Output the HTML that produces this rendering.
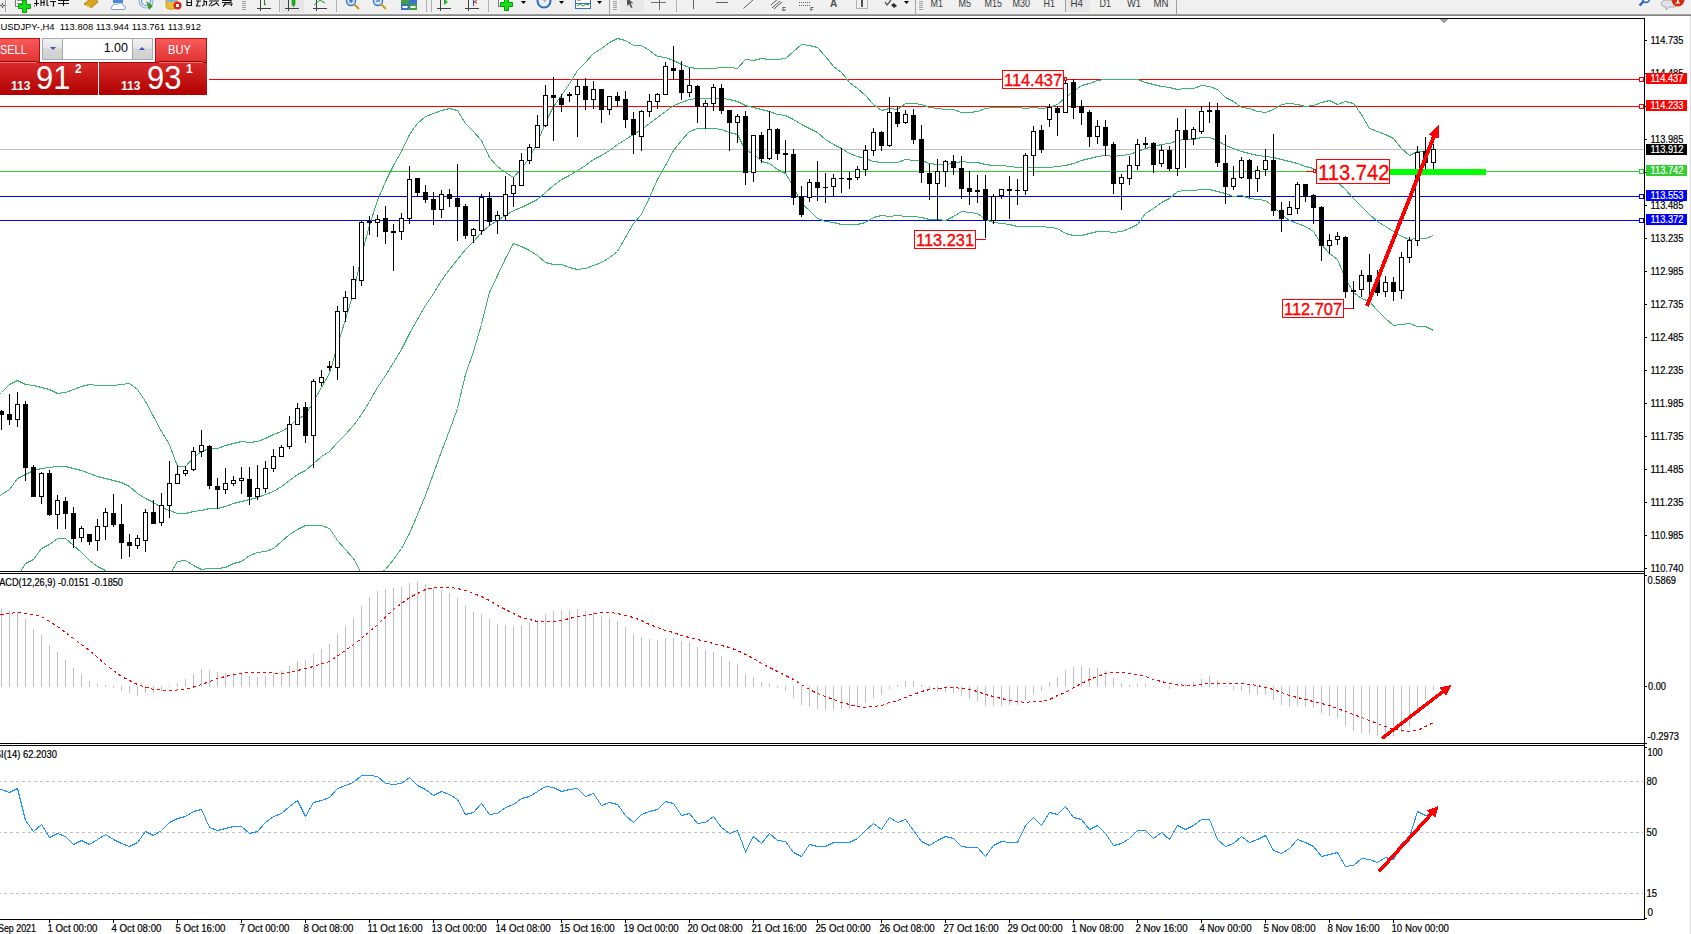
<!DOCTYPE html>
<html><head><meta charset="utf-8"><style>
*{margin:0;padding:0;box-sizing:border-box}
html,body{width:1691px;height:934px;overflow:hidden;background:#fff;font-family:"Liberation Sans", sans-serif}
#tb{position:absolute;left:0;top:0;width:1691px;height:14px;background:#f0f0f0}
#tbl1{position:absolute;left:0;top:14px;width:1691px;height:1px;background:#a0a0a0}
#tbl2{position:absolute;left:0;top:15px;width:1691px;height:1px;background:#868686}
#redge{position:absolute;left:1690px;top:16px;width:1px;height:918px;background:#dcdcdc}
svg{position:absolute;left:0;top:0}
svg text{font-family:"Liberation Sans", sans-serif}
.pn{position:absolute}
</style></head><body>
<div id="tb"></div><div id="tbl1"></div><div id="tbl2"></div><div id="redge"></div>
<svg width="1691" height="934" viewBox="0 0 1691 934" shape-rendering="crispEdges">
<defs><clipPath id="cmain"><rect x="0" y="19" width="1644" height="552"/></clipPath></defs>
<rect x="209" y="79" width="1430" height="1" fill="#ff0000" />
<rect x="0" y="106" width="1639" height="1" fill="#ff0000" />
<rect x="0" y="149" width="1644" height="1" fill="#c0c0c0" />
<rect x="0" y="171" width="1639" height="1" fill="#32cd32" />
<rect x="0" y="196" width="1639" height="1" fill="#0000ff" />
<rect x="0" y="220" width="1639" height="1" fill="#0000ff" />
<rect x="1639.5" y="77.5" width="4" height="4" fill="#fff" stroke="#ff0000" stroke-width="1"/>
<rect x="1639.5" y="104.5" width="4" height="4" fill="#fff" stroke="#ff0000" stroke-width="1"/>
<rect x="1639.5" y="169.5" width="4" height="4" fill="#fff" stroke="#32cd32" stroke-width="1"/>
<rect x="1639.5" y="194.5" width="4" height="4" fill="#fff" stroke="#0000ff" stroke-width="1"/>
<rect x="1639.5" y="218.5" width="4" height="4" fill="#fff" stroke="#0000ff" stroke-width="1"/>
<g clip-path="url(#cmain)">
<polyline points="-6.5,398.5 1.5,392.5 9.5,384.5 17.5,380.5 25.5,384.5 33.5,385.5 41.5,387.5 49.5,389.5 57.5,393.5 65.5,392.5 73.5,389.5 81.5,386.5 89.5,384.5 97.5,385.5 105.5,385.5 113.5,385.5 121.5,384.5 129.5,383.5 137.5,389.5 145.5,401.5 153.5,416.5 161.5,431.5 169.5,444.5 177.5,466.5 185.5,466.5 193.5,457.5 201.5,451.5 209.5,448.5 217.5,448.5 225.5,445.5 233.5,443.5 241.5,441.5 249.5,442.5 257.5,441.5 265.5,438.5 273.5,434.5 281.5,431.5 289.5,426.5 297.5,418.5 305.5,415.5 313.5,401.5 321.5,387.5 329.5,373.5 337.5,345.5 345.5,319.5 353.5,292.5 361.5,255.5 369.5,225.5 377.5,200.5 385.5,181.5 393.5,165.5 401.5,151.5 409.5,134.5 417.5,123.5 425.5,116.5 433.5,113.5 441.5,110.5 449.5,108.5 457.5,110.5 465.5,123.5 473.5,131.5 481.5,140.5 489.5,157.5 497.5,166.5 505.5,172.5 513.5,177.5 521.5,168.5 529.5,157.5 537.5,142.5 545.5,122.5 553.5,106.5 561.5,95.5 569.5,83.5 577.5,70.5 585.5,62.5 593.5,53.5 601.5,48.5 609.5,42.5 617.5,38.5 625.5,40.5 633.5,45.5 641.5,45.5 649.5,50.5 657.5,56.5 665.5,57.5 673.5,60.5 681.5,64.5 689.5,67.5 697.5,68.5 705.5,68.5 713.5,68.5 721.5,67.5 729.5,67.5 737.5,68.5 745.5,59.5 753.5,60.5 761.5,58.5 769.5,59.5 777.5,59.5 785.5,58.5 793.5,51.5 801.5,44.5 809.5,45.5 817.5,47.5 825.5,56.5 833.5,66.5 841.5,72.5 849.5,82.5 857.5,88.5 865.5,95.5 873.5,104.5 881.5,110.5 889.5,108.5 897.5,109.5 905.5,103.5 913.5,103.5 921.5,104.5 929.5,107.5 937.5,108.5 945.5,109.5 953.5,109.5 961.5,112.5 969.5,112.5 977.5,111.5 985.5,108.5 993.5,107.5 1001.5,107.5 1009.5,107.5 1017.5,107.5 1025.5,108.5 1033.5,107.5 1041.5,108.5 1049.5,107.5 1057.5,104.5 1065.5,97.5 1073.5,91.5 1081.5,85.5 1089.5,83.5 1097.5,80.5 1105.5,79.5 1113.5,79.5 1121.5,79.5 1129.5,79.5 1137.5,79.5 1145.5,82.5 1153.5,84.5 1161.5,86.5 1169.5,87.5 1177.5,89.5 1185.5,88.5 1193.5,88.5 1201.5,85.5 1209.5,86.5 1217.5,89.5 1225.5,97.5 1233.5,101.5 1241.5,107.5 1249.5,108.5 1257.5,111.5 1265.5,112.5 1273.5,109.5 1281.5,104.5 1289.5,103.5 1297.5,104.5 1305.5,106.5 1313.5,105.5 1321.5,102.5 1329.5,100.5 1337.5,104.5 1345.5,101.5 1353.5,103.5 1361.5,114.5 1369.5,128.5 1377.5,131.5 1385.5,134.5 1393.5,138.5 1401.5,148.5 1409.5,155.5 1417.5,151.5 1425.5,151.5 1433.5,140.5" fill="none" stroke="#3cb371" stroke-width="1" />
<polyline points="-6.5,500.5 1.5,494.5 9.5,489.5 17.5,478.5 25.5,474.5 33.5,470.5 41.5,468.5 49.5,467.5 57.5,466.5 65.5,466.5 73.5,468.5 81.5,470.5 89.5,473.5 97.5,476.5 105.5,478.5 113.5,480.5 121.5,482.5 129.5,486.5 137.5,493.5 145.5,498.5 153.5,502.5 161.5,507.5 169.5,510.5 177.5,513.5 185.5,513.5 193.5,511.5 201.5,510.5 209.5,508.5 217.5,508.5 225.5,506.5 233.5,503.5 241.5,501.5 249.5,499.5 257.5,497.5 265.5,494.5 273.5,491.5 281.5,486.5 289.5,480.5 297.5,474.5 305.5,470.5 313.5,463.5 321.5,456.5 329.5,451.5 337.5,442.5 345.5,434.5 353.5,425.5 361.5,414.5 369.5,401.5 377.5,387.5 385.5,375.5 393.5,362.5 401.5,349.5 409.5,333.5 417.5,319.5 425.5,305.5 433.5,293.5 441.5,280.5 449.5,269.5 457.5,259.5 465.5,249.5 473.5,241.5 481.5,232.5 489.5,225.5 497.5,220.5 505.5,215.5 513.5,210.5 521.5,207.5 529.5,203.5 537.5,199.5 545.5,192.5 553.5,185.5 561.5,179.5 569.5,175.5 577.5,170.5 585.5,165.5 593.5,159.5 601.5,155.5 609.5,150.5 617.5,144.5 625.5,139.5 633.5,134.5 641.5,129.5 649.5,123.5 657.5,117.5 665.5,111.5 673.5,105.5 681.5,102.5 689.5,99.5 697.5,98.5 705.5,98.5 713.5,98.5 721.5,98.5 729.5,99.5 737.5,101.5 745.5,105.5 753.5,107.5 761.5,109.5 769.5,111.5 777.5,114.5 785.5,115.5 793.5,119.5 801.5,124.5 809.5,128.5 817.5,132.5 825.5,139.5 833.5,144.5 841.5,148.5 849.5,153.5 857.5,156.5 865.5,158.5 873.5,161.5 881.5,162.5 889.5,162.5 897.5,162.5 905.5,159.5 913.5,160.5 921.5,160.5 929.5,163.5 937.5,164.5 945.5,164.5 953.5,163.5 961.5,161.5 969.5,162.5 977.5,162.5 985.5,164.5 993.5,165.5 1001.5,165.5 1009.5,166.5 1017.5,167.5 1025.5,167.5 1033.5,167.5 1041.5,167.5 1049.5,167.5 1057.5,166.5 1065.5,165.5 1073.5,163.5 1081.5,160.5 1089.5,158.5 1097.5,156.5 1105.5,155.5 1113.5,156.5 1121.5,155.5 1129.5,154.5 1137.5,151.5 1145.5,148.5 1153.5,146.5 1161.5,144.5 1169.5,143.5 1177.5,140.5 1185.5,139.5 1193.5,139.5 1201.5,137.5 1209.5,137.5 1217.5,140.5 1225.5,145.5 1233.5,148.5 1241.5,151.5 1249.5,153.5 1257.5,155.5 1265.5,156.5 1273.5,157.5 1281.5,159.5 1289.5,161.5 1297.5,163.5 1305.5,166.5 1313.5,168.5 1321.5,173.5 1329.5,176.5 1337.5,182.5 1345.5,189.5 1353.5,198.5 1361.5,206.5 1369.5,214.5 1377.5,221.5 1385.5,226.5 1393.5,231.5 1401.5,236.5 1409.5,239.5 1417.5,238.5 1425.5,238.5 1433.5,235.5" fill="none" stroke="#3cb371" stroke-width="1" />
<polyline points="1.5,600.5 9.5,590.5 17.5,576.5 25.5,563.5 33.5,559.5 41.5,548.5 49.5,544.5 57.5,538.5 65.5,538.5 73.5,545.5 81.5,552.5 89.5,560.5 97.5,566.5 105.5,570.5 113.5,575.5 121.5,580.5 129.5,585.5 137.5,588.5 145.5,590.5 153.5,588.5 161.5,582.5 169.5,575.5 177.5,561.5 185.5,560.5 193.5,565.5 201.5,569.5 209.5,568.5 217.5,568.5 225.5,567.5 233.5,563.5 241.5,561.5 249.5,555.5 257.5,552.5 265.5,551.5 273.5,548.5 281.5,541.5 289.5,534.5 297.5,529.5 305.5,525.5 313.5,525.5 321.5,525.5 329.5,528.5 337.5,540.5 345.5,549.5 353.5,558.5 361.5,573.5 369.5,577.5 377.5,575.5 385.5,569.5 393.5,559.5 401.5,548.5 409.5,533.5 417.5,514.5 425.5,495.5 433.5,473.5 441.5,451.5 449.5,430.5 457.5,408.5 465.5,374.5 473.5,351.5 481.5,324.5 489.5,292.5 497.5,275.5 505.5,258.5 513.5,243.5 521.5,246.5 529.5,250.5 537.5,255.5 545.5,262.5 553.5,264.5 561.5,264.5 569.5,267.5 577.5,269.5 585.5,268.5 593.5,265.5 601.5,262.5 609.5,257.5 617.5,251.5 625.5,237.5 633.5,223.5 641.5,214.5 649.5,197.5 657.5,179.5 665.5,165.5 673.5,150.5 681.5,140.5 689.5,131.5 697.5,128.5 705.5,128.5 713.5,128.5 721.5,129.5 729.5,132.5 737.5,134.5 745.5,150.5 753.5,153.5 761.5,161.5 769.5,163.5 777.5,169.5 785.5,173.5 793.5,186.5 801.5,203.5 809.5,210.5 817.5,218.5 825.5,221.5 833.5,222.5 841.5,224.5 849.5,224.5 857.5,224.5 865.5,222.5 873.5,217.5 881.5,215.5 889.5,216.5 897.5,215.5 905.5,216.5 913.5,216.5 921.5,217.5 929.5,219.5 937.5,219.5 945.5,220.5 953.5,216.5 961.5,211.5 969.5,212.5 977.5,213.5 985.5,219.5 993.5,222.5 1001.5,223.5 1009.5,224.5 1017.5,226.5 1025.5,226.5 1033.5,226.5 1041.5,226.5 1049.5,227.5 1057.5,228.5 1065.5,233.5 1073.5,235.5 1081.5,235.5 1089.5,233.5 1097.5,231.5 1105.5,231.5 1113.5,232.5 1121.5,231.5 1129.5,228.5 1137.5,224.5 1145.5,213.5 1153.5,208.5 1161.5,202.5 1169.5,198.5 1177.5,191.5 1185.5,190.5 1193.5,190.5 1201.5,189.5 1209.5,189.5 1217.5,191.5 1225.5,193.5 1233.5,196.5 1241.5,195.5 1249.5,198.5 1257.5,199.5 1265.5,200.5 1273.5,206.5 1281.5,214.5 1289.5,220.5 1297.5,223.5 1305.5,226.5 1313.5,231.5 1321.5,244.5 1329.5,253.5 1337.5,259.5 1345.5,278.5 1353.5,292.5 1361.5,298.5 1369.5,301.5 1377.5,310.5 1385.5,318.5 1393.5,325.5 1401.5,324.5 1409.5,323.5 1417.5,326.5 1425.5,326.5 1433.5,330.5" fill="none" stroke="#3cb371" stroke-width="1" />
<rect x="1" y="410" width="1" height="20" fill="#000" />
<rect x="-1" y="411" width="5" height="4" fill="#000" />
<rect x="9" y="394" width="1" height="31" fill="#000" />
<rect x="7" y="414" width="5" height="6" fill="#000" />
<rect x="17" y="392" width="1" height="35" fill="#000" />
<rect x="15" y="404" width="5" height="16" fill="#000" />
<rect x="16" y="405" width="3" height="14" fill="#fff" />
<rect x="25" y="401" width="1" height="80" fill="#000" />
<rect x="23" y="404" width="5" height="64" fill="#000" />
<rect x="33" y="465" width="1" height="32" fill="#000" />
<rect x="31" y="467" width="5" height="30" fill="#000" />
<rect x="41" y="472" width="1" height="32" fill="#000" />
<rect x="39" y="473" width="5" height="24" fill="#000" />
<rect x="40" y="474" width="3" height="22" fill="#fff" />
<rect x="49" y="470" width="1" height="46" fill="#000" />
<rect x="47" y="473" width="5" height="42" fill="#000" />
<rect x="57" y="495" width="1" height="34" fill="#000" />
<rect x="55" y="500" width="5" height="15" fill="#000" />
<rect x="56" y="501" width="3" height="13" fill="#fff" />
<rect x="65" y="497" width="1" height="32" fill="#000" />
<rect x="63" y="501" width="5" height="13" fill="#000" />
<rect x="73" y="507" width="1" height="41" fill="#000" />
<rect x="71" y="513" width="5" height="26" fill="#000" />
<rect x="81" y="526" width="1" height="16" fill="#000" />
<rect x="79" y="528" width="5" height="10" fill="#000" />
<rect x="80" y="529" width="3" height="8" fill="#fff" />
<rect x="89" y="534" width="1" height="11" fill="#000" />
<rect x="87" y="534" width="5" height="8" fill="#000" />
<rect x="97" y="519" width="1" height="32" fill="#000" />
<rect x="95" y="526" width="5" height="15" fill="#000" />
<rect x="96" y="527" width="3" height="13" fill="#fff" />
<rect x="105" y="508" width="1" height="32" fill="#000" />
<rect x="103" y="512" width="5" height="15" fill="#000" />
<rect x="104" y="513" width="3" height="13" fill="#fff" />
<rect x="113" y="494" width="1" height="33" fill="#000" />
<rect x="111" y="513" width="5" height="12" fill="#000" />
<rect x="121" y="504" width="1" height="55" fill="#000" />
<rect x="119" y="524" width="5" height="19" fill="#000" />
<rect x="129" y="534" width="1" height="23" fill="#000" />
<rect x="127" y="542" width="5" height="4" fill="#000" />
<rect x="137" y="535" width="1" height="14" fill="#000" />
<rect x="135" y="538" width="5" height="8" fill="#000" />
<rect x="136" y="539" width="3" height="6" fill="#fff" />
<rect x="145" y="509" width="1" height="43" fill="#000" />
<rect x="143" y="512" width="5" height="29" fill="#000" />
<rect x="144" y="513" width="3" height="27" fill="#fff" />
<rect x="153" y="500" width="1" height="24" fill="#000" />
<rect x="151" y="512" width="5" height="12" fill="#000" />
<rect x="161" y="493" width="1" height="33" fill="#000" />
<rect x="159" y="505" width="5" height="18" fill="#000" />
<rect x="160" y="506" width="3" height="16" fill="#fff" />
<rect x="169" y="461" width="1" height="57" fill="#000" />
<rect x="167" y="483" width="5" height="23" fill="#000" />
<rect x="168" y="484" width="3" height="21" fill="#fff" />
<rect x="177" y="465" width="1" height="19" fill="#000" />
<rect x="175" y="474" width="5" height="10" fill="#000" />
<rect x="176" y="475" width="3" height="8" fill="#fff" />
<rect x="185" y="466" width="1" height="10" fill="#000" />
<rect x="183" y="470" width="5" height="4" fill="#000" />
<rect x="184" y="471" width="3" height="2" fill="#fff" />
<rect x="193" y="447" width="1" height="24" fill="#000" />
<rect x="191" y="451" width="5" height="19" fill="#000" />
<rect x="192" y="452" width="3" height="17" fill="#fff" />
<rect x="201" y="430" width="1" height="27" fill="#000" />
<rect x="199" y="445" width="5" height="7" fill="#000" />
<rect x="200" y="446" width="3" height="5" fill="#fff" />
<rect x="209" y="445" width="1" height="44" fill="#000" />
<rect x="207" y="446" width="5" height="40" fill="#000" />
<rect x="217" y="478" width="1" height="31" fill="#000" />
<rect x="215" y="486" width="5" height="4" fill="#000" />
<rect x="225" y="468" width="1" height="26" fill="#000" />
<rect x="223" y="483" width="5" height="7" fill="#000" />
<rect x="224" y="484" width="3" height="5" fill="#fff" />
<rect x="233" y="476" width="1" height="10" fill="#000" />
<rect x="231" y="480" width="5" height="4" fill="#000" />
<rect x="232" y="481" width="3" height="2" fill="#fff" />
<rect x="241" y="467" width="1" height="27" fill="#000" />
<rect x="239" y="478" width="5" height="3" fill="#000" />
<rect x="240" y="479" width="3" height="1" fill="#fff" />
<rect x="249" y="467" width="1" height="38" fill="#000" />
<rect x="247" y="479" width="5" height="18" fill="#000" />
<rect x="257" y="465" width="1" height="35" fill="#000" />
<rect x="255" y="488" width="5" height="9" fill="#000" />
<rect x="256" y="489" width="3" height="7" fill="#fff" />
<rect x="265" y="461" width="1" height="32" fill="#000" />
<rect x="263" y="468" width="5" height="21" fill="#000" />
<rect x="264" y="469" width="3" height="19" fill="#fff" />
<rect x="273" y="449" width="1" height="23" fill="#000" />
<rect x="271" y="456" width="5" height="13" fill="#000" />
<rect x="272" y="457" width="3" height="11" fill="#fff" />
<rect x="281" y="445" width="1" height="12" fill="#000" />
<rect x="279" y="447" width="5" height="10" fill="#000" />
<rect x="280" y="448" width="3" height="8" fill="#fff" />
<rect x="289" y="416" width="1" height="33" fill="#000" />
<rect x="287" y="424" width="5" height="23" fill="#000" />
<rect x="288" y="425" width="3" height="21" fill="#fff" />
<rect x="297" y="403" width="1" height="22" fill="#000" />
<rect x="295" y="408" width="5" height="17" fill="#000" />
<rect x="296" y="409" width="3" height="15" fill="#fff" />
<rect x="305" y="402" width="1" height="41" fill="#000" />
<rect x="303" y="407" width="5" height="29" fill="#000" />
<rect x="313" y="379" width="1" height="89" fill="#000" />
<rect x="311" y="381" width="5" height="55" fill="#000" />
<rect x="312" y="382" width="3" height="53" fill="#fff" />
<rect x="321" y="370" width="1" height="16" fill="#000" />
<rect x="319" y="377" width="5" height="6" fill="#000" />
<rect x="320" y="378" width="3" height="4" fill="#fff" />
<rect x="329" y="361" width="1" height="10" fill="#000" />
<rect x="327" y="366" width="5" height="2" fill="#000" />
<rect x="337" y="306" width="1" height="74" fill="#000" />
<rect x="335" y="311" width="5" height="57" fill="#000" />
<rect x="336" y="312" width="3" height="55" fill="#fff" />
<rect x="345" y="291" width="1" height="31" fill="#000" />
<rect x="343" y="297" width="5" height="15" fill="#000" />
<rect x="344" y="298" width="3" height="13" fill="#fff" />
<rect x="353" y="266" width="1" height="33" fill="#000" />
<rect x="351" y="279" width="5" height="20" fill="#000" />
<rect x="352" y="280" width="3" height="18" fill="#fff" />
<rect x="361" y="220" width="1" height="66" fill="#000" />
<rect x="359" y="222" width="5" height="59" fill="#000" />
<rect x="360" y="223" width="3" height="57" fill="#fff" />
<rect x="369" y="216" width="1" height="19" fill="#000" />
<rect x="367" y="221" width="5" height="2" fill="#000" />
<rect x="377" y="215" width="1" height="22" fill="#000" />
<rect x="375" y="219" width="5" height="4" fill="#000" />
<rect x="376" y="220" width="3" height="2" fill="#fff" />
<rect x="385" y="206" width="1" height="38" fill="#000" />
<rect x="383" y="218" width="5" height="14" fill="#000" />
<rect x="393" y="224" width="1" height="47" fill="#000" />
<rect x="391" y="231" width="5" height="2" fill="#000" />
<rect x="401" y="213" width="1" height="27" fill="#000" />
<rect x="399" y="218" width="5" height="14" fill="#000" />
<rect x="400" y="219" width="3" height="12" fill="#fff" />
<rect x="409" y="166" width="1" height="58" fill="#000" />
<rect x="407" y="179" width="5" height="40" fill="#000" />
<rect x="408" y="180" width="3" height="38" fill="#fff" />
<rect x="417" y="178" width="1" height="19" fill="#000" />
<rect x="415" y="178" width="5" height="15" fill="#000" />
<rect x="425" y="185" width="1" height="18" fill="#000" />
<rect x="423" y="192" width="5" height="8" fill="#000" />
<rect x="433" y="192" width="1" height="33" fill="#000" />
<rect x="431" y="199" width="5" height="11" fill="#000" />
<rect x="441" y="190" width="1" height="28" fill="#000" />
<rect x="439" y="194" width="5" height="16" fill="#000" />
<rect x="440" y="195" width="3" height="14" fill="#fff" />
<rect x="449" y="189" width="1" height="18" fill="#000" />
<rect x="447" y="194" width="5" height="5" fill="#000" />
<rect x="457" y="164" width="1" height="77" fill="#000" />
<rect x="455" y="198" width="5" height="9" fill="#000" />
<rect x="465" y="204" width="1" height="35" fill="#000" />
<rect x="463" y="206" width="5" height="30" fill="#000" />
<rect x="473" y="228" width="1" height="15" fill="#000" />
<rect x="471" y="229" width="5" height="7" fill="#000" />
<rect x="472" y="230" width="3" height="5" fill="#fff" />
<rect x="481" y="194" width="1" height="41" fill="#000" />
<rect x="479" y="197" width="5" height="34" fill="#000" />
<rect x="480" y="198" width="3" height="32" fill="#fff" />
<rect x="489" y="192" width="1" height="34" fill="#000" />
<rect x="487" y="198" width="5" height="24" fill="#000" />
<rect x="497" y="211" width="1" height="23" fill="#000" />
<rect x="495" y="215" width="5" height="6" fill="#000" />
<rect x="496" y="216" width="3" height="4" fill="#fff" />
<rect x="505" y="176" width="1" height="45" fill="#000" />
<rect x="503" y="194" width="5" height="22" fill="#000" />
<rect x="504" y="195" width="3" height="20" fill="#fff" />
<rect x="513" y="177" width="1" height="30" fill="#000" />
<rect x="511" y="185" width="5" height="9" fill="#000" />
<rect x="512" y="186" width="3" height="7" fill="#fff" />
<rect x="521" y="153" width="1" height="33" fill="#000" />
<rect x="519" y="160" width="5" height="26" fill="#000" />
<rect x="520" y="161" width="3" height="24" fill="#fff" />
<rect x="529" y="144" width="1" height="20" fill="#000" />
<rect x="527" y="147" width="5" height="14" fill="#000" />
<rect x="528" y="148" width="3" height="12" fill="#fff" />
<rect x="537" y="115" width="1" height="33" fill="#000" />
<rect x="535" y="125" width="5" height="23" fill="#000" />
<rect x="536" y="126" width="3" height="21" fill="#fff" />
<rect x="545" y="85" width="1" height="42" fill="#000" />
<rect x="543" y="95" width="5" height="31" fill="#000" />
<rect x="544" y="96" width="3" height="29" fill="#fff" />
<rect x="553" y="77" width="1" height="64" fill="#000" />
<rect x="551" y="95" width="5" height="3" fill="#000" />
<rect x="561" y="94" width="1" height="18" fill="#000" />
<rect x="559" y="98" width="5" height="7" fill="#000" />
<rect x="569" y="92" width="1" height="10" fill="#000" />
<rect x="567" y="94" width="5" height="2" fill="#000" />
<rect x="577" y="79" width="1" height="58" fill="#000" />
<rect x="575" y="86" width="5" height="9" fill="#000" />
<rect x="576" y="87" width="3" height="7" fill="#fff" />
<rect x="585" y="78" width="1" height="32" fill="#000" />
<rect x="583" y="86" width="5" height="14" fill="#000" />
<rect x="593" y="81" width="1" height="28" fill="#000" />
<rect x="591" y="89" width="5" height="11" fill="#000" />
<rect x="592" y="90" width="3" height="9" fill="#fff" />
<rect x="601" y="89" width="1" height="34" fill="#000" />
<rect x="599" y="89" width="5" height="21" fill="#000" />
<rect x="609" y="96" width="1" height="19" fill="#000" />
<rect x="607" y="96" width="5" height="14" fill="#000" />
<rect x="608" y="97" width="3" height="12" fill="#fff" />
<rect x="617" y="92" width="1" height="15" fill="#000" />
<rect x="615" y="96" width="5" height="5" fill="#000" />
<rect x="625" y="91" width="1" height="37" fill="#000" />
<rect x="623" y="99" width="5" height="21" fill="#000" />
<rect x="633" y="112" width="1" height="42" fill="#000" />
<rect x="631" y="119" width="5" height="16" fill="#000" />
<rect x="641" y="110" width="1" height="41" fill="#000" />
<rect x="639" y="111" width="5" height="26" fill="#000" />
<rect x="640" y="112" width="3" height="24" fill="#fff" />
<rect x="649" y="94" width="1" height="23" fill="#000" />
<rect x="647" y="101" width="5" height="11" fill="#000" />
<rect x="648" y="102" width="3" height="9" fill="#fff" />
<rect x="657" y="93" width="1" height="16" fill="#000" />
<rect x="655" y="94" width="5" height="8" fill="#000" />
<rect x="656" y="95" width="3" height="6" fill="#fff" />
<rect x="665" y="62" width="1" height="33" fill="#000" />
<rect x="663" y="66" width="5" height="29" fill="#000" />
<rect x="664" y="67" width="3" height="27" fill="#fff" />
<rect x="673" y="46" width="1" height="34" fill="#000" />
<rect x="671" y="68" width="5" height="3" fill="#000" />
<rect x="681" y="61" width="1" height="39" fill="#000" />
<rect x="679" y="70" width="5" height="23" fill="#000" />
<rect x="689" y="68" width="1" height="29" fill="#000" />
<rect x="687" y="85" width="5" height="8" fill="#000" />
<rect x="688" y="86" width="3" height="6" fill="#fff" />
<rect x="697" y="85" width="1" height="38" fill="#000" />
<rect x="695" y="86" width="5" height="21" fill="#000" />
<rect x="705" y="100" width="1" height="29" fill="#000" />
<rect x="703" y="103" width="5" height="4" fill="#000" />
<rect x="704" y="104" width="3" height="2" fill="#fff" />
<rect x="713" y="84" width="1" height="27" fill="#000" />
<rect x="711" y="87" width="5" height="17" fill="#000" />
<rect x="712" y="88" width="3" height="15" fill="#fff" />
<rect x="721" y="84" width="1" height="30" fill="#000" />
<rect x="719" y="88" width="5" height="23" fill="#000" />
<rect x="729" y="110" width="1" height="41" fill="#000" />
<rect x="727" y="110" width="5" height="13" fill="#000" />
<rect x="737" y="114" width="1" height="29" fill="#000" />
<rect x="735" y="116" width="5" height="7" fill="#000" />
<rect x="736" y="117" width="3" height="5" fill="#fff" />
<rect x="745" y="111" width="1" height="74" fill="#000" />
<rect x="743" y="116" width="5" height="57" fill="#000" />
<rect x="753" y="135" width="1" height="47" fill="#000" />
<rect x="751" y="135" width="5" height="38" fill="#000" />
<rect x="752" y="136" width="3" height="36" fill="#fff" />
<rect x="761" y="132" width="1" height="31" fill="#000" />
<rect x="759" y="135" width="5" height="24" fill="#000" />
<rect x="769" y="111" width="1" height="49" fill="#000" />
<rect x="767" y="129" width="5" height="30" fill="#000" />
<rect x="768" y="130" width="3" height="28" fill="#fff" />
<rect x="777" y="128" width="1" height="32" fill="#000" />
<rect x="775" y="129" width="5" height="25" fill="#000" />
<rect x="785" y="140" width="1" height="33" fill="#000" />
<rect x="783" y="153" width="5" height="2" fill="#000" />
<rect x="793" y="149" width="1" height="56" fill="#000" />
<rect x="791" y="154" width="5" height="44" fill="#000" />
<rect x="801" y="186" width="1" height="31" fill="#000" />
<rect x="799" y="196" width="5" height="19" fill="#000" />
<rect x="809" y="179" width="1" height="23" fill="#000" />
<rect x="807" y="182" width="5" height="16" fill="#000" />
<rect x="808" y="183" width="3" height="14" fill="#fff" />
<rect x="817" y="161" width="1" height="40" fill="#000" />
<rect x="815" y="182" width="5" height="6" fill="#000" />
<rect x="825" y="173" width="1" height="30" fill="#000" />
<rect x="823" y="187" width="5" height="1" fill="#000" />
<rect x="833" y="174" width="1" height="23" fill="#000" />
<rect x="831" y="178" width="5" height="9" fill="#000" />
<rect x="832" y="179" width="3" height="7" fill="#fff" />
<rect x="841" y="148" width="1" height="45" fill="#000" />
<rect x="839" y="178" width="5" height="1" fill="#000" />
<rect x="849" y="172" width="1" height="17" fill="#000" />
<rect x="847" y="178" width="5" height="2" fill="#000" />
<rect x="857" y="166" width="1" height="14" fill="#000" />
<rect x="855" y="169" width="5" height="9" fill="#000" />
<rect x="856" y="170" width="3" height="7" fill="#fff" />
<rect x="865" y="145" width="1" height="31" fill="#000" />
<rect x="863" y="150" width="5" height="20" fill="#000" />
<rect x="864" y="151" width="3" height="18" fill="#fff" />
<rect x="873" y="128" width="1" height="28" fill="#000" />
<rect x="871" y="132" width="5" height="19" fill="#000" />
<rect x="872" y="133" width="3" height="17" fill="#fff" />
<rect x="881" y="131" width="1" height="20" fill="#000" />
<rect x="879" y="132" width="5" height="14" fill="#000" />
<rect x="889" y="97" width="1" height="50" fill="#000" />
<rect x="887" y="112" width="5" height="34" fill="#000" />
<rect x="888" y="113" width="3" height="32" fill="#fff" />
<rect x="897" y="106" width="1" height="21" fill="#000" />
<rect x="895" y="112" width="5" height="12" fill="#000" />
<rect x="905" y="110" width="1" height="14" fill="#000" />
<rect x="903" y="114" width="5" height="9" fill="#000" />
<rect x="904" y="115" width="3" height="7" fill="#fff" />
<rect x="913" y="109" width="1" height="35" fill="#000" />
<rect x="911" y="115" width="5" height="25" fill="#000" />
<rect x="921" y="125" width="1" height="58" fill="#000" />
<rect x="919" y="139" width="5" height="34" fill="#000" />
<rect x="929" y="164" width="1" height="36" fill="#000" />
<rect x="927" y="173" width="5" height="11" fill="#000" />
<rect x="937" y="159" width="1" height="61" fill="#000" />
<rect x="935" y="171" width="5" height="13" fill="#000" />
<rect x="936" y="172" width="3" height="11" fill="#fff" />
<rect x="945" y="160" width="1" height="27" fill="#000" />
<rect x="943" y="161" width="5" height="11" fill="#000" />
<rect x="944" y="162" width="3" height="9" fill="#fff" />
<rect x="953" y="155" width="1" height="20" fill="#000" />
<rect x="951" y="161" width="5" height="7" fill="#000" />
<rect x="961" y="156" width="1" height="43" fill="#000" />
<rect x="959" y="168" width="5" height="21" fill="#000" />
<rect x="969" y="171" width="1" height="34" fill="#000" />
<rect x="967" y="188" width="5" height="4" fill="#000" />
<rect x="977" y="175" width="1" height="28" fill="#000" />
<rect x="975" y="190" width="5" height="2" fill="#000" />
<rect x="985" y="175" width="1" height="63" fill="#000" />
<rect x="983" y="189" width="5" height="31" fill="#000" />
<rect x="993" y="194" width="1" height="30" fill="#000" />
<rect x="991" y="196" width="5" height="25" fill="#000" />
<rect x="992" y="197" width="3" height="23" fill="#fff" />
<rect x="1001" y="189" width="1" height="10" fill="#000" />
<rect x="999" y="189" width="5" height="7" fill="#000" />
<rect x="1000" y="190" width="3" height="5" fill="#fff" />
<rect x="1009" y="176" width="1" height="43" fill="#000" />
<rect x="1007" y="189" width="5" height="2" fill="#000" />
<rect x="1017" y="179" width="1" height="26" fill="#000" />
<rect x="1015" y="190" width="5" height="1" fill="#000" />
<rect x="1025" y="153" width="1" height="42" fill="#000" />
<rect x="1023" y="155" width="5" height="36" fill="#000" />
<rect x="1024" y="156" width="3" height="34" fill="#fff" />
<rect x="1033" y="126" width="1" height="50" fill="#000" />
<rect x="1031" y="131" width="5" height="25" fill="#000" />
<rect x="1032" y="132" width="3" height="23" fill="#fff" />
<rect x="1041" y="125" width="1" height="28" fill="#000" />
<rect x="1039" y="130" width="5" height="20" fill="#000" />
<rect x="1049" y="104" width="1" height="23" fill="#000" />
<rect x="1047" y="107" width="5" height="13" fill="#000" />
<rect x="1048" y="108" width="3" height="11" fill="#fff" />
<rect x="1057" y="106" width="1" height="30" fill="#000" />
<rect x="1055" y="108" width="5" height="5" fill="#000" />
<rect x="1065" y="80" width="1" height="33" fill="#000" />
<rect x="1063" y="83" width="5" height="30" fill="#000" />
<rect x="1064" y="84" width="3" height="28" fill="#fff" />
<rect x="1073" y="79" width="1" height="40" fill="#000" />
<rect x="1071" y="82" width="5" height="26" fill="#000" />
<rect x="1081" y="100" width="1" height="25" fill="#000" />
<rect x="1079" y="106" width="5" height="7" fill="#000" />
<rect x="1089" y="110" width="1" height="37" fill="#000" />
<rect x="1087" y="112" width="5" height="25" fill="#000" />
<rect x="1097" y="120" width="1" height="24" fill="#000" />
<rect x="1095" y="126" width="5" height="11" fill="#000" />
<rect x="1096" y="127" width="3" height="9" fill="#fff" />
<rect x="1105" y="120" width="1" height="36" fill="#000" />
<rect x="1103" y="127" width="5" height="19" fill="#000" />
<rect x="1113" y="142" width="1" height="52" fill="#000" />
<rect x="1111" y="144" width="5" height="40" fill="#000" />
<rect x="1121" y="174" width="1" height="36" fill="#000" />
<rect x="1119" y="177" width="5" height="7" fill="#000" />
<rect x="1120" y="178" width="3" height="5" fill="#fff" />
<rect x="1129" y="156" width="1" height="29" fill="#000" />
<rect x="1127" y="165" width="5" height="14" fill="#000" />
<rect x="1128" y="166" width="3" height="12" fill="#fff" />
<rect x="1137" y="139" width="1" height="31" fill="#000" />
<rect x="1135" y="144" width="5" height="22" fill="#000" />
<rect x="1136" y="145" width="3" height="20" fill="#fff" />
<rect x="1145" y="137" width="1" height="11" fill="#000" />
<rect x="1143" y="143" width="5" height="2" fill="#000" />
<rect x="1153" y="142" width="1" height="31" fill="#000" />
<rect x="1151" y="143" width="5" height="22" fill="#000" />
<rect x="1161" y="145" width="1" height="22" fill="#000" />
<rect x="1159" y="150" width="5" height="14" fill="#000" />
<rect x="1160" y="151" width="3" height="12" fill="#fff" />
<rect x="1169" y="146" width="1" height="25" fill="#000" />
<rect x="1167" y="150" width="5" height="19" fill="#000" />
<rect x="1177" y="118" width="1" height="58" fill="#000" />
<rect x="1175" y="130" width="5" height="39" fill="#000" />
<rect x="1176" y="131" width="3" height="37" fill="#fff" />
<rect x="1185" y="109" width="1" height="59" fill="#000" />
<rect x="1183" y="130" width="5" height="10" fill="#000" />
<rect x="1193" y="127" width="1" height="18" fill="#000" />
<rect x="1191" y="129" width="5" height="10" fill="#000" />
<rect x="1192" y="130" width="3" height="8" fill="#fff" />
<rect x="1201" y="106" width="1" height="28" fill="#000" />
<rect x="1199" y="111" width="5" height="21" fill="#000" />
<rect x="1200" y="112" width="3" height="19" fill="#fff" />
<rect x="1209" y="102" width="1" height="21" fill="#000" />
<rect x="1207" y="110" width="5" height="2" fill="#000" />
<rect x="1217" y="103" width="1" height="64" fill="#000" />
<rect x="1215" y="110" width="5" height="53" fill="#000" />
<rect x="1225" y="135" width="1" height="69" fill="#000" />
<rect x="1223" y="163" width="5" height="24" fill="#000" />
<rect x="1233" y="166" width="1" height="24" fill="#000" />
<rect x="1231" y="178" width="5" height="9" fill="#000" />
<rect x="1232" y="179" width="3" height="7" fill="#fff" />
<rect x="1241" y="157" width="1" height="22" fill="#000" />
<rect x="1239" y="160" width="5" height="18" fill="#000" />
<rect x="1240" y="161" width="3" height="16" fill="#fff" />
<rect x="1249" y="159" width="1" height="39" fill="#000" />
<rect x="1247" y="160" width="5" height="19" fill="#000" />
<rect x="1257" y="166" width="1" height="26" fill="#000" />
<rect x="1255" y="170" width="5" height="9" fill="#000" />
<rect x="1256" y="171" width="3" height="7" fill="#fff" />
<rect x="1265" y="149" width="1" height="27" fill="#000" />
<rect x="1263" y="160" width="5" height="10" fill="#000" />
<rect x="1264" y="161" width="3" height="8" fill="#fff" />
<rect x="1273" y="134" width="1" height="82" fill="#000" />
<rect x="1271" y="160" width="5" height="51" fill="#000" />
<rect x="1281" y="202" width="1" height="30" fill="#000" />
<rect x="1279" y="210" width="5" height="9" fill="#000" />
<rect x="1289" y="201" width="1" height="14" fill="#000" />
<rect x="1287" y="207" width="5" height="8" fill="#000" />
<rect x="1288" y="208" width="3" height="6" fill="#fff" />
<rect x="1297" y="182" width="1" height="32" fill="#000" />
<rect x="1295" y="184" width="5" height="25" fill="#000" />
<rect x="1296" y="185" width="3" height="23" fill="#fff" />
<rect x="1305" y="184" width="1" height="18" fill="#000" />
<rect x="1303" y="184" width="5" height="13" fill="#000" />
<rect x="1313" y="194" width="1" height="30" fill="#000" />
<rect x="1311" y="195" width="5" height="13" fill="#000" />
<rect x="1321" y="206" width="1" height="55" fill="#000" />
<rect x="1319" y="207" width="5" height="39" fill="#000" />
<rect x="1329" y="234" width="1" height="20" fill="#000" />
<rect x="1327" y="240" width="5" height="6" fill="#000" />
<rect x="1328" y="241" width="3" height="4" fill="#fff" />
<rect x="1337" y="232" width="1" height="13" fill="#000" />
<rect x="1335" y="236" width="5" height="4" fill="#000" />
<rect x="1336" y="237" width="3" height="2" fill="#fff" />
<rect x="1345" y="236" width="1" height="62" fill="#000" />
<rect x="1343" y="237" width="5" height="55" fill="#000" />
<rect x="1353" y="281" width="1" height="28" fill="#000" />
<rect x="1351" y="290" width="5" height="2" fill="#000" />
<rect x="1361" y="270" width="1" height="27" fill="#000" />
<rect x="1359" y="275" width="5" height="15" fill="#000" />
<rect x="1360" y="276" width="3" height="13" fill="#fff" />
<rect x="1369" y="254" width="1" height="42" fill="#000" />
<rect x="1367" y="275" width="5" height="7" fill="#000" />
<rect x="1377" y="270" width="1" height="26" fill="#000" />
<rect x="1375" y="280" width="5" height="13" fill="#000" />
<rect x="1385" y="276" width="1" height="21" fill="#000" />
<rect x="1383" y="282" width="5" height="10" fill="#000" />
<rect x="1384" y="283" width="3" height="8" fill="#fff" />
<rect x="1393" y="277" width="1" height="24" fill="#000" />
<rect x="1391" y="282" width="5" height="10" fill="#000" />
<rect x="1401" y="252" width="1" height="47" fill="#000" />
<rect x="1399" y="257" width="5" height="34" fill="#000" />
<rect x="1400" y="258" width="3" height="32" fill="#fff" />
<rect x="1409" y="237" width="1" height="26" fill="#000" />
<rect x="1407" y="240" width="5" height="18" fill="#000" />
<rect x="1408" y="241" width="3" height="16" fill="#fff" />
<rect x="1417" y="146" width="1" height="100" fill="#000" />
<rect x="1415" y="152" width="5" height="89" fill="#000" />
<rect x="1416" y="153" width="3" height="87" fill="#fff" />
<rect x="1425" y="137" width="1" height="32" fill="#000" />
<rect x="1423" y="151" width="5" height="12" fill="#000" />
<rect x="1433" y="144" width="1" height="25" fill="#000" />
<rect x="1431" y="149" width="5" height="14" fill="#000" />
<rect x="1432" y="150" width="3" height="12" fill="#fff" />
</g>
<rect x="1" y="609" width="1" height="78" fill="#c0c0c0" />
<rect x="9" y="611" width="1" height="76" fill="#c0c0c0" />
<rect x="17" y="612" width="1" height="75" fill="#c0c0c0" />
<rect x="25" y="619" width="1" height="68" fill="#c0c0c0" />
<rect x="33" y="629" width="1" height="58" fill="#c0c0c0" />
<rect x="41" y="635" width="1" height="52" fill="#c0c0c0" />
<rect x="49" y="645" width="1" height="42" fill="#c0c0c0" />
<rect x="57" y="652" width="1" height="35" fill="#c0c0c0" />
<rect x="65" y="660" width="1" height="27" fill="#c0c0c0" />
<rect x="73" y="668" width="1" height="19" fill="#c0c0c0" />
<rect x="81" y="674" width="1" height="13" fill="#c0c0c0" />
<rect x="89" y="681" width="1" height="6" fill="#c0c0c0" />
<rect x="97" y="684" width="1" height="3" fill="#c0c0c0" />
<rect x="105" y="685" width="1" height="2" fill="#c0c0c0" />
<rect x="113" y="686" width="1" height="2" fill="#c0c0c0" />
<rect x="121" y="686" width="1" height="5" fill="#c0c0c0" />
<rect x="129" y="686" width="1" height="7" fill="#c0c0c0" />
<rect x="137" y="686" width="1" height="10" fill="#c0c0c0" />
<rect x="145" y="686" width="1" height="7" fill="#c0c0c0" />
<rect x="153" y="686" width="1" height="7" fill="#c0c0c0" />
<rect x="161" y="686" width="1" height="5" fill="#c0c0c0" />
<rect x="169" y="686" width="1" height="1" fill="#c0c0c0" />
<rect x="177" y="683" width="1" height="4" fill="#c0c0c0" />
<rect x="185" y="679" width="1" height="8" fill="#c0c0c0" />
<rect x="193" y="674" width="1" height="13" fill="#c0c0c0" />
<rect x="201" y="669" width="1" height="18" fill="#c0c0c0" />
<rect x="209" y="670" width="1" height="17" fill="#c0c0c0" />
<rect x="217" y="672" width="1" height="15" fill="#c0c0c0" />
<rect x="225" y="673" width="1" height="14" fill="#c0c0c0" />
<rect x="233" y="673" width="1" height="14" fill="#c0c0c0" />
<rect x="241" y="673" width="1" height="14" fill="#c0c0c0" />
<rect x="249" y="676" width="1" height="11" fill="#c0c0c0" />
<rect x="257" y="677" width="1" height="10" fill="#c0c0c0" />
<rect x="265" y="676" width="1" height="11" fill="#c0c0c0" />
<rect x="273" y="673" width="1" height="14" fill="#c0c0c0" />
<rect x="281" y="671" width="1" height="16" fill="#c0c0c0" />
<rect x="289" y="666" width="1" height="21" fill="#c0c0c0" />
<rect x="297" y="661" width="1" height="26" fill="#c0c0c0" />
<rect x="305" y="660" width="1" height="27" fill="#c0c0c0" />
<rect x="313" y="654" width="1" height="33" fill="#c0c0c0" />
<rect x="321" y="649" width="1" height="38" fill="#c0c0c0" />
<rect x="329" y="644" width="1" height="43" fill="#c0c0c0" />
<rect x="337" y="634" width="1" height="53" fill="#c0c0c0" />
<rect x="345" y="626" width="1" height="61" fill="#c0c0c0" />
<rect x="353" y="618" width="1" height="69" fill="#c0c0c0" />
<rect x="361" y="606" width="1" height="81" fill="#c0c0c0" />
<rect x="369" y="597" width="1" height="90" fill="#c0c0c0" />
<rect x="377" y="591" width="1" height="96" fill="#c0c0c0" />
<rect x="385" y="589" width="1" height="98" fill="#c0c0c0" />
<rect x="393" y="588" width="1" height="99" fill="#c0c0c0" />
<rect x="401" y="587" width="1" height="100" fill="#c0c0c0" />
<rect x="409" y="583" width="1" height="104" fill="#c0c0c0" />
<rect x="417" y="582" width="1" height="105" fill="#c0c0c0" />
<rect x="425" y="584" width="1" height="103" fill="#c0c0c0" />
<rect x="433" y="588" width="1" height="99" fill="#c0c0c0" />
<rect x="441" y="590" width="1" height="97" fill="#c0c0c0" />
<rect x="449" y="593" width="1" height="94" fill="#c0c0c0" />
<rect x="457" y="598" width="1" height="89" fill="#c0c0c0" />
<rect x="465" y="606" width="1" height="81" fill="#c0c0c0" />
<rect x="473" y="612" width="1" height="75" fill="#c0c0c0" />
<rect x="481" y="614" width="1" height="73" fill="#c0c0c0" />
<rect x="489" y="619" width="1" height="68" fill="#c0c0c0" />
<rect x="497" y="624" width="1" height="63" fill="#c0c0c0" />
<rect x="505" y="625" width="1" height="62" fill="#c0c0c0" />
<rect x="513" y="626" width="1" height="61" fill="#c0c0c0" />
<rect x="521" y="625" width="1" height="62" fill="#c0c0c0" />
<rect x="529" y="623" width="1" height="64" fill="#c0c0c0" />
<rect x="537" y="620" width="1" height="67" fill="#c0c0c0" />
<rect x="545" y="614" width="1" height="73" fill="#c0c0c0" />
<rect x="553" y="611" width="1" height="76" fill="#c0c0c0" />
<rect x="561" y="610" width="1" height="77" fill="#c0c0c0" />
<rect x="569" y="610" width="1" height="77" fill="#c0c0c0" />
<rect x="577" y="609" width="1" height="78" fill="#c0c0c0" />
<rect x="585" y="611" width="1" height="76" fill="#c0c0c0" />
<rect x="593" y="612" width="1" height="75" fill="#c0c0c0" />
<rect x="601" y="616" width="1" height="71" fill="#c0c0c0" />
<rect x="609" y="618" width="1" height="69" fill="#c0c0c0" />
<rect x="617" y="621" width="1" height="66" fill="#c0c0c0" />
<rect x="625" y="627" width="1" height="60" fill="#c0c0c0" />
<rect x="633" y="634" width="1" height="53" fill="#c0c0c0" />
<rect x="641" y="637" width="1" height="50" fill="#c0c0c0" />
<rect x="649" y="639" width="1" height="48" fill="#c0c0c0" />
<rect x="657" y="640" width="1" height="47" fill="#c0c0c0" />
<rect x="665" y="638" width="1" height="49" fill="#c0c0c0" />
<rect x="673" y="638" width="1" height="49" fill="#c0c0c0" />
<rect x="681" y="641" width="1" height="46" fill="#c0c0c0" />
<rect x="689" y="642" width="1" height="45" fill="#c0c0c0" />
<rect x="697" y="647" width="1" height="40" fill="#c0c0c0" />
<rect x="705" y="650" width="1" height="37" fill="#c0c0c0" />
<rect x="713" y="652" width="1" height="35" fill="#c0c0c0" />
<rect x="721" y="656" width="1" height="31" fill="#c0c0c0" />
<rect x="729" y="661" width="1" height="26" fill="#c0c0c0" />
<rect x="737" y="664" width="1" height="23" fill="#c0c0c0" />
<rect x="745" y="674" width="1" height="13" fill="#c0c0c0" />
<rect x="753" y="677" width="1" height="10" fill="#c0c0c0" />
<rect x="761" y="682" width="1" height="5" fill="#c0c0c0" />
<rect x="769" y="683" width="1" height="4" fill="#c0c0c0" />
<rect x="777" y="686" width="1" height="2" fill="#c0c0c0" />
<rect x="785" y="686" width="1" height="5" fill="#c0c0c0" />
<rect x="793" y="686" width="1" height="12" fill="#c0c0c0" />
<rect x="801" y="686" width="1" height="19" fill="#c0c0c0" />
<rect x="809" y="686" width="1" height="21" fill="#c0c0c0" />
<rect x="817" y="686" width="1" height="23" fill="#c0c0c0" />
<rect x="825" y="686" width="1" height="24" fill="#c0c0c0" />
<rect x="833" y="686" width="1" height="24" fill="#c0c0c0" />
<rect x="841" y="686" width="1" height="23" fill="#c0c0c0" />
<rect x="849" y="686" width="1" height="23" fill="#c0c0c0" />
<rect x="857" y="686" width="1" height="21" fill="#c0c0c0" />
<rect x="865" y="686" width="1" height="17" fill="#c0c0c0" />
<rect x="873" y="686" width="1" height="12" fill="#c0c0c0" />
<rect x="881" y="686" width="1" height="9" fill="#c0c0c0" />
<rect x="889" y="686" width="1" height="3" fill="#c0c0c0" />
<rect x="897" y="685" width="1" height="2" fill="#c0c0c0" />
<rect x="905" y="681" width="1" height="6" fill="#c0c0c0" />
<rect x="913" y="681" width="1" height="6" fill="#c0c0c0" />
<rect x="921" y="685" width="1" height="2" fill="#c0c0c0" />
<rect x="929" y="686" width="1" height="4" fill="#c0c0c0" />
<rect x="937" y="686" width="1" height="6" fill="#c0c0c0" />
<rect x="945" y="686" width="1" height="6" fill="#c0c0c0" />
<rect x="953" y="686" width="1" height="7" fill="#c0c0c0" />
<rect x="961" y="686" width="1" height="10" fill="#c0c0c0" />
<rect x="969" y="686" width="1" height="13" fill="#c0c0c0" />
<rect x="977" y="686" width="1" height="15" fill="#c0c0c0" />
<rect x="985" y="686" width="1" height="20" fill="#c0c0c0" />
<rect x="993" y="686" width="1" height="20" fill="#c0c0c0" />
<rect x="1001" y="686" width="1" height="20" fill="#c0c0c0" />
<rect x="1009" y="686" width="1" height="19" fill="#c0c0c0" />
<rect x="1017" y="686" width="1" height="19" fill="#c0c0c0" />
<rect x="1025" y="686" width="1" height="14" fill="#c0c0c0" />
<rect x="1033" y="686" width="1" height="8" fill="#c0c0c0" />
<rect x="1041" y="686" width="1" height="5" fill="#c0c0c0" />
<rect x="1049" y="682" width="1" height="5" fill="#c0c0c0" />
<rect x="1057" y="677" width="1" height="10" fill="#c0c0c0" />
<rect x="1065" y="670" width="1" height="17" fill="#c0c0c0" />
<rect x="1073" y="667" width="1" height="20" fill="#c0c0c0" />
<rect x="1081" y="666" width="1" height="21" fill="#c0c0c0" />
<rect x="1089" y="668" width="1" height="19" fill="#c0c0c0" />
<rect x="1097" y="668" width="1" height="19" fill="#c0c0c0" />
<rect x="1105" y="671" width="1" height="16" fill="#c0c0c0" />
<rect x="1113" y="678" width="1" height="9" fill="#c0c0c0" />
<rect x="1121" y="683" width="1" height="4" fill="#c0c0c0" />
<rect x="1129" y="685" width="1" height="2" fill="#c0c0c0" />
<rect x="1137" y="684" width="1" height="3" fill="#c0c0c0" />
<rect x="1145" y="684" width="1" height="3" fill="#c0c0c0" />
<rect x="1153" y="686" width="1" height="1" fill="#c0c0c0" />
<rect x="1161" y="686" width="1" height="1" fill="#c0c0c0" />
<rect x="1169" y="686" width="1" height="3" fill="#c0c0c0" />
<rect x="1177" y="685" width="1" height="2" fill="#c0c0c0" />
<rect x="1185" y="684" width="1" height="3" fill="#c0c0c0" />
<rect x="1193" y="682" width="1" height="5" fill="#c0c0c0" />
<rect x="1201" y="679" width="1" height="8" fill="#c0c0c0" />
<rect x="1209" y="676" width="1" height="11" fill="#c0c0c0" />
<rect x="1217" y="680" width="1" height="7" fill="#c0c0c0" />
<rect x="1225" y="686" width="1" height="1" fill="#c0c0c0" />
<rect x="1233" y="686" width="1" height="4" fill="#c0c0c0" />
<rect x="1241" y="686" width="1" height="5" fill="#c0c0c0" />
<rect x="1249" y="686" width="1" height="8" fill="#c0c0c0" />
<rect x="1257" y="686" width="1" height="9" fill="#c0c0c0" />
<rect x="1265" y="686" width="1" height="8" fill="#c0c0c0" />
<rect x="1273" y="686" width="1" height="14" fill="#c0c0c0" />
<rect x="1281" y="686" width="1" height="19" fill="#c0c0c0" />
<rect x="1289" y="686" width="1" height="21" fill="#c0c0c0" />
<rect x="1297" y="686" width="1" height="20" fill="#c0c0c0" />
<rect x="1305" y="686" width="1" height="21" fill="#c0c0c0" />
<rect x="1313" y="686" width="1" height="22" fill="#c0c0c0" />
<rect x="1321" y="686" width="1" height="27" fill="#c0c0c0" />
<rect x="1329" y="686" width="1" height="30" fill="#c0c0c0" />
<rect x="1337" y="686" width="1" height="32" fill="#c0c0c0" />
<rect x="1345" y="686" width="1" height="40" fill="#c0c0c0" />
<rect x="1353" y="686" width="1" height="45" fill="#c0c0c0" />
<rect x="1361" y="686" width="1" height="47" fill="#c0c0c0" />
<rect x="1369" y="686" width="1" height="48" fill="#c0c0c0" />
<rect x="1377" y="686" width="1" height="50" fill="#c0c0c0" />
<rect x="1385" y="686" width="1" height="50" fill="#c0c0c0" />
<rect x="1393" y="686" width="1" height="50" fill="#c0c0c0" />
<rect x="1401" y="686" width="1" height="46" fill="#c0c0c0" />
<rect x="1409" y="686" width="1" height="41" fill="#c0c0c0" />
<rect x="1417" y="686" width="1" height="25" fill="#c0c0c0" />
<rect x="1425" y="686" width="1" height="14" fill="#c0c0c0" />
<rect x="1433" y="686" width="1" height="4" fill="#c0c0c0" />
<polyline points="0.5,614.5 17.5,612.5 33.5,614.5 41.5,616.5 57.5,626.5 73.5,638.5 89.5,650.5 105.5,664.5 121.5,676.5 137.5,684.5 153.5,689.5 169.5,690.5 185.5,689.5 201.5,684.5 217.5,678.5 233.5,674.5 249.5,672.5 265.5,672.5 281.5,673.5 297.5,670.5 313.5,666.5 329.5,661.5 345.5,650.5 361.5,638.5 377.5,624.5 393.5,609.5 409.5,597.5 417.5,593.5 425.5,589.5 433.5,587.5 441.5,587.5 449.5,587.5 457.5,588.5 465.5,590.5 473.5,593.5 481.5,596.5 489.5,600.5 497.5,605.5 505.5,609.5 513.5,613.5 521.5,617.5 529.5,619.5 537.5,621.5 545.5,621.5 553.5,621.5 561.5,620.5 569.5,618.5 577.5,616.5 585.5,615.5 593.5,613.5 601.5,612.5 609.5,612.5 617.5,613.5 625.5,615.5 633.5,617.5 641.5,620.5 649.5,624.5 657.5,627.5 665.5,630.5 673.5,632.5 681.5,635.5 689.5,637.5 697.5,639.5 705.5,641.5 713.5,643.5 721.5,645.5 729.5,647.5 737.5,650.5 745.5,654.5 753.5,658.5 761.5,663.5 769.5,667.5 777.5,671.5 785.5,675.5 793.5,679.5 801.5,684.5 809.5,689.5 817.5,693.5 825.5,696.5 833.5,699.5 841.5,702.5 849.5,704.5 857.5,706.5 865.5,707.5 873.5,706.5 881.5,705.5 889.5,702.5 897.5,700.5 905.5,697.5 913.5,694.5 921.5,691.5 929.5,689.5 937.5,688.5 945.5,687.5 953.5,687.5 961.5,688.5 969.5,689.5 977.5,691.5 985.5,694.5 993.5,696.5 1001.5,698.5 1009.5,700.5 1017.5,701.5 1025.5,702.5 1033.5,701.5 1041.5,701.5 1049.5,699.5 1057.5,695.5 1065.5,692.5 1073.5,687.5 1081.5,683.5 1089.5,679.5 1097.5,676.5 1105.5,673.5 1113.5,672.5 1121.5,672.5 1129.5,673.5 1137.5,674.5 1145.5,676.5 1153.5,679.5 1161.5,681.5 1169.5,683.5 1177.5,684.5 1185.5,685.5 1193.5,685.5 1201.5,684.5 1209.5,683.5 1217.5,683.5 1225.5,683.5 1233.5,683.5 1241.5,683.5 1249.5,684.5 1257.5,685.5 1265.5,687.5 1273.5,689.5 1281.5,692.5 1289.5,695.5 1297.5,697.5 1305.5,699.5 1313.5,701.5 1321.5,703.5 1329.5,705.5 1337.5,708.5 1345.5,711.5 1353.5,714.5 1361.5,717.5 1369.5,720.5 1377.5,723.5 1385.5,726.5 1393.5,729.5 1401.5,730.5 1409.5,731.5 1417.5,730.5 1425.5,726.5 1433.5,722.5" fill="none" stroke="#ff0000" stroke-width="1" stroke-dasharray="3 3"/>
<line x1="0" y1="781.5" x2="1643" y2="781.5" stroke="#c0c0c0" stroke-width="1" stroke-dasharray="3 3" stroke-dashoffset="2"/>
<line x1="0" y1="832.5" x2="1643" y2="832.5" stroke="#c0c0c0" stroke-width="1" stroke-dasharray="3 3" stroke-dashoffset="2"/>
<line x1="0" y1="893.5" x2="1643" y2="893.5" stroke="#c0c0c0" stroke-width="1" stroke-dasharray="3 3" stroke-dashoffset="2"/>
<polyline points="-6.5,788.5 1.5,789.5 9.5,792.5 17.5,788.5 25.5,820.5 33.5,831.5 41.5,824.5 49.5,837.5 57.5,833.5 65.5,836.5 73.5,844.5 81.5,840.5 89.5,844.5 97.5,839.5 105.5,834.5 113.5,839.5 121.5,843.5 129.5,846.5 137.5,842.5 145.5,831.5 153.5,835.5 161.5,830.5 169.5,822.5 177.5,818.5 185.5,816.5 193.5,811.5 201.5,809.5 209.5,827.5 217.5,830.5 225.5,828.5 233.5,826.5 241.5,826.5 249.5,833.5 257.5,831.5 265.5,822.5 273.5,816.5 281.5,813.5 289.5,806.5 297.5,800.5 305.5,816.5 313.5,802.5 321.5,800.5 329.5,797.5 337.5,788.5 345.5,785.5 353.5,782.5 361.5,775.5 369.5,775.5 377.5,776.5 385.5,783.5 393.5,784.5 401.5,783.5 409.5,777.5 417.5,785.5 425.5,789.5 433.5,795.5 441.5,791.5 449.5,794.5 457.5,799.5 465.5,814.5 473.5,812.5 481.5,803.5 489.5,814.5 497.5,813.5 505.5,807.5 513.5,804.5 521.5,798.5 529.5,796.5 537.5,791.5 545.5,786.5 553.5,787.5 561.5,791.5 569.5,789.5 577.5,788.5 585.5,796.5 593.5,793.5 601.5,805.5 609.5,802.5 617.5,804.5 625.5,815.5 633.5,822.5 641.5,814.5 649.5,811.5 657.5,809.5 665.5,801.5 673.5,803.5 681.5,815.5 689.5,813.5 697.5,823.5 705.5,822.5 713.5,816.5 721.5,827.5 729.5,833.5 737.5,830.5 745.5,851.5 753.5,836.5 761.5,843.5 769.5,833.5 777.5,840.5 785.5,841.5 793.5,852.5 801.5,856.5 809.5,844.5 817.5,846.5 825.5,846.5 833.5,842.5 841.5,842.5 849.5,842.5 857.5,838.5 865.5,830.5 873.5,823.5 881.5,829.5 889.5,817.5 897.5,822.5 905.5,819.5 913.5,830.5 921.5,841.5 929.5,845.5 937.5,840.5 945.5,836.5 953.5,838.5 961.5,846.5 969.5,847.5 977.5,847.5 985.5,856.5 993.5,845.5 1001.5,841.5 1009.5,842.5 1017.5,842.5 1025.5,825.5 1033.5,817.5 1041.5,825.5 1049.5,812.5 1057.5,814.5 1065.5,806.5 1073.5,817.5 1081.5,819.5 1089.5,829.5 1097.5,825.5 1105.5,833.5 1113.5,845.5 1121.5,843.5 1129.5,838.5 1137.5,830.5 1145.5,830.5 1153.5,838.5 1161.5,832.5 1169.5,839.5 1177.5,825.5 1185.5,829.5 1193.5,825.5 1201.5,819.5 1209.5,819.5 1217.5,839.5 1225.5,846.5 1233.5,843.5 1241.5,836.5 1249.5,842.5 1257.5,839.5 1265.5,835.5 1273.5,850.5 1281.5,853.5 1289.5,848.5 1297.5,839.5 1305.5,842.5 1313.5,846.5 1321.5,856.5 1329.5,854.5 1337.5,852.5 1345.5,866.5 1353.5,865.5 1361.5,858.5 1369.5,859.5 1377.5,862.5 1385.5,857.5 1393.5,859.5 1401.5,843.5 1409.5,837.5 1417.5,811.5 1425.5,815.5 1433.5,812.5" fill="none" stroke="#1e90ff" stroke-width="1" />
<rect x="0" y="18" width="1645" height="1" fill="#000" />
<rect x="0" y="571" width="1645" height="1" fill="#000" />
<rect x="0" y="573" width="1645" height="1" fill="#000" />
<rect x="0" y="743" width="1645" height="1" fill="#000" />
<rect x="0" y="745" width="1645" height="1" fill="#000" />
<rect x="0" y="919" width="1645" height="1" fill="#000" />
<rect x="1644" y="18" width="1" height="902" fill="#000" />
<rect x="1645" y="40" width="2" height="1" fill="#000" />
<text x="1650.5" y="44" font-size="10.1" fill="#000" textLength="33" lengthAdjust="spacingAndGlyphs"  stroke="#000" stroke-width="0.2">114.735</text>
<rect x="1645" y="73" width="2" height="1" fill="#000" />
<text x="1650.5" y="77" font-size="10.1" fill="#000" textLength="33" lengthAdjust="spacingAndGlyphs"  stroke="#000" stroke-width="0.2">114.485</text>
<rect x="1645" y="106" width="2" height="1" fill="#000" />
<text x="1650.5" y="110" font-size="10.1" fill="#000" textLength="33" lengthAdjust="spacingAndGlyphs"  stroke="#000" stroke-width="0.2">114.235</text>
<rect x="1645" y="139" width="2" height="1" fill="#000" />
<text x="1650.5" y="143" font-size="10.1" fill="#000" textLength="33" lengthAdjust="spacingAndGlyphs"  stroke="#000" stroke-width="0.2">113.985</text>
<rect x="1645" y="172" width="2" height="1" fill="#000" />
<text x="1650.5" y="176" font-size="10.1" fill="#000" textLength="33" lengthAdjust="spacingAndGlyphs"  stroke="#000" stroke-width="0.2">113.735</text>
<rect x="1645" y="205" width="2" height="1" fill="#000" />
<text x="1650.5" y="209" font-size="10.1" fill="#000" textLength="33" lengthAdjust="spacingAndGlyphs"  stroke="#000" stroke-width="0.2">113.485</text>
<rect x="1645" y="238" width="2" height="1" fill="#000" />
<text x="1650.5" y="242" font-size="10.1" fill="#000" textLength="33" lengthAdjust="spacingAndGlyphs"  stroke="#000" stroke-width="0.2">113.235</text>
<rect x="1645" y="271" width="2" height="1" fill="#000" />
<text x="1650.5" y="275" font-size="10.1" fill="#000" textLength="33" lengthAdjust="spacingAndGlyphs"  stroke="#000" stroke-width="0.2">112.985</text>
<rect x="1645" y="304" width="2" height="1" fill="#000" />
<text x="1650.5" y="308" font-size="10.1" fill="#000" textLength="33" lengthAdjust="spacingAndGlyphs"  stroke="#000" stroke-width="0.2">112.735</text>
<rect x="1645" y="337" width="2" height="1" fill="#000" />
<text x="1650.5" y="341" font-size="10.1" fill="#000" textLength="33" lengthAdjust="spacingAndGlyphs"  stroke="#000" stroke-width="0.2">112.485</text>
<rect x="1645" y="370" width="2" height="1" fill="#000" />
<text x="1650.5" y="374" font-size="10.1" fill="#000" textLength="33" lengthAdjust="spacingAndGlyphs"  stroke="#000" stroke-width="0.2">112.235</text>
<rect x="1645" y="403" width="2" height="1" fill="#000" />
<text x="1650.5" y="407" font-size="10.1" fill="#000" textLength="33" lengthAdjust="spacingAndGlyphs"  stroke="#000" stroke-width="0.2">111.985</text>
<rect x="1645" y="436" width="2" height="1" fill="#000" />
<text x="1650.5" y="440" font-size="10.1" fill="#000" textLength="33" lengthAdjust="spacingAndGlyphs"  stroke="#000" stroke-width="0.2">111.735</text>
<rect x="1645" y="469" width="2" height="1" fill="#000" />
<text x="1650.5" y="473" font-size="10.1" fill="#000" textLength="33" lengthAdjust="spacingAndGlyphs"  stroke="#000" stroke-width="0.2">111.485</text>
<rect x="1645" y="502" width="2" height="1" fill="#000" />
<text x="1650.5" y="506" font-size="10.1" fill="#000" textLength="33" lengthAdjust="spacingAndGlyphs"  stroke="#000" stroke-width="0.2">111.235</text>
<rect x="1645" y="535" width="2" height="1" fill="#000" />
<text x="1650.5" y="539" font-size="10.1" fill="#000" textLength="33" lengthAdjust="spacingAndGlyphs"  stroke="#000" stroke-width="0.2">110.985</text>
<rect x="1645" y="568" width="2" height="1" fill="#000" />
<text x="1650.5" y="572" font-size="10.1" fill="#000" textLength="33" lengthAdjust="spacingAndGlyphs"  stroke="#000" stroke-width="0.2">110.740</text>
<rect x="1646" y="73" width="41" height="11" fill="#ff0000" />
<text x="1650.5" y="82" font-size="10.1" fill="#fff" textLength="33" lengthAdjust="spacingAndGlyphs"  stroke="#fff" stroke-width="0.2">114.437</text>
<rect x="1646" y="100" width="41" height="11" fill="#ff0000" />
<text x="1650.5" y="109" font-size="10.1" fill="#fff" textLength="33" lengthAdjust="spacingAndGlyphs"  stroke="#fff" stroke-width="0.2">114.233</text>
<rect x="1646" y="144" width="41" height="11" fill="#000000" />
<text x="1650.5" y="153" font-size="10.1" fill="#fff" textLength="33" lengthAdjust="spacingAndGlyphs"  stroke="#fff" stroke-width="0.2">113.912</text>
<rect x="1646" y="165" width="41" height="11" fill="#32cd32" />
<text x="1650.5" y="174" font-size="10.1" fill="#fff" textLength="33" lengthAdjust="spacingAndGlyphs"  stroke="#fff" stroke-width="0.2">113.742</text>
<rect x="1646" y="190" width="41" height="11" fill="#0000ff" />
<text x="1650.5" y="199" font-size="10.1" fill="#fff" textLength="33" lengthAdjust="spacingAndGlyphs"  stroke="#fff" stroke-width="0.2">113.553</text>
<rect x="1646" y="214" width="41" height="11" fill="#0000ff" />
<text x="1650.5" y="223" font-size="10.1" fill="#fff" textLength="33" lengthAdjust="spacingAndGlyphs"  stroke="#fff" stroke-width="0.2">113.372</text>
<rect x="1645" y="575" width="2" height="1" fill="#000" />
<text x="1647.5" y="584" font-size="10.1" fill="#000" textLength="28.5" lengthAdjust="spacingAndGlyphs"  stroke="#000" stroke-width="0.2">0.5869</text>
<rect x="1645" y="686" width="2" height="1" fill="#000" />
<text x="1648" y="690" font-size="10.1" fill="#000" textLength="18" lengthAdjust="spacingAndGlyphs"  stroke="#000" stroke-width="0.2">0.00</text>
<rect x="1645" y="743" width="2" height="1" fill="#000" />
<text x="1647.5" y="740" font-size="10.1" fill="#000" textLength="31.5" lengthAdjust="spacingAndGlyphs"  stroke="#000" stroke-width="0.2">-0.2973</text>
<rect x="1645" y="747" width="2" height="1" fill="#000" />
<text x="1647.5" y="756" font-size="10.1" fill="#000" textLength="15" lengthAdjust="spacingAndGlyphs"  stroke="#000" stroke-width="0.2">100</text>
<text x="1646.5" y="785" font-size="10.1" fill="#000" textLength="10.5" lengthAdjust="spacingAndGlyphs"  stroke="#000" stroke-width="0.2">80</text>
<text x="1646.5" y="836" font-size="10.1" fill="#000" textLength="10.5" lengthAdjust="spacingAndGlyphs"  stroke="#000" stroke-width="0.2">50</text>
<text x="1646.5" y="897" font-size="10.1" fill="#000" textLength="10.5" lengthAdjust="spacingAndGlyphs"  stroke="#000" stroke-width="0.2">15</text>
<rect x="1645" y="918" width="2" height="1" fill="#000" />
<text x="1647.5" y="916" font-size="10.1" fill="#000" textLength="5.5" lengthAdjust="spacingAndGlyphs"  stroke="#000" stroke-width="0.2">0</text>
<rect x="49" y="920" width="1" height="3" fill="#000" />
<text x="47.5" y="932" font-size="10.1" fill="#000" textLength="49.9" lengthAdjust="spacingAndGlyphs"  stroke="#000" stroke-width="0.2">1 Oct 00:00</text>
<rect x="113" y="920" width="1" height="3" fill="#000" />
<text x="111.5" y="932" font-size="10.1" fill="#000" textLength="49.9" lengthAdjust="spacingAndGlyphs"  stroke="#000" stroke-width="0.2">4 Oct 08:00</text>
<rect x="177" y="920" width="1" height="3" fill="#000" />
<text x="175.5" y="932" font-size="10.1" fill="#000" textLength="49.9" lengthAdjust="spacingAndGlyphs"  stroke="#000" stroke-width="0.2">5 Oct 16:00</text>
<rect x="241" y="920" width="1" height="3" fill="#000" />
<text x="239.5" y="932" font-size="10.1" fill="#000" textLength="49.9" lengthAdjust="spacingAndGlyphs"  stroke="#000" stroke-width="0.2">7 Oct 00:00</text>
<rect x="305" y="920" width="1" height="3" fill="#000" />
<text x="303.5" y="932" font-size="10.1" fill="#000" textLength="49.9" lengthAdjust="spacingAndGlyphs"  stroke="#000" stroke-width="0.2">8 Oct 08:00</text>
<rect x="369" y="920" width="1" height="3" fill="#000" />
<text x="367.5" y="932" font-size="10.1" fill="#000" textLength="55.2" lengthAdjust="spacingAndGlyphs"  stroke="#000" stroke-width="0.2">11 Oct 16:00</text>
<rect x="433" y="920" width="1" height="3" fill="#000" />
<text x="431.5" y="932" font-size="10.1" fill="#000" textLength="55.2" lengthAdjust="spacingAndGlyphs"  stroke="#000" stroke-width="0.2">13 Oct 00:00</text>
<rect x="497" y="920" width="1" height="3" fill="#000" />
<text x="495.5" y="932" font-size="10.1" fill="#000" textLength="55.2" lengthAdjust="spacingAndGlyphs"  stroke="#000" stroke-width="0.2">14 Oct 08:00</text>
<rect x="561" y="920" width="1" height="3" fill="#000" />
<text x="559.5" y="932" font-size="10.1" fill="#000" textLength="55.2" lengthAdjust="spacingAndGlyphs"  stroke="#000" stroke-width="0.2">15 Oct 16:00</text>
<rect x="625" y="920" width="1" height="3" fill="#000" />
<text x="623.5" y="932" font-size="10.1" fill="#000" textLength="55.2" lengthAdjust="spacingAndGlyphs"  stroke="#000" stroke-width="0.2">19 Oct 00:00</text>
<rect x="689" y="920" width="1" height="3" fill="#000" />
<text x="687.5" y="932" font-size="10.1" fill="#000" textLength="55.2" lengthAdjust="spacingAndGlyphs"  stroke="#000" stroke-width="0.2">20 Oct 08:00</text>
<rect x="753" y="920" width="1" height="3" fill="#000" />
<text x="751.5" y="932" font-size="10.1" fill="#000" textLength="55.2" lengthAdjust="spacingAndGlyphs"  stroke="#000" stroke-width="0.2">21 Oct 16:00</text>
<rect x="817" y="920" width="1" height="3" fill="#000" />
<text x="815.5" y="932" font-size="10.1" fill="#000" textLength="55.2" lengthAdjust="spacingAndGlyphs"  stroke="#000" stroke-width="0.2">25 Oct 00:00</text>
<rect x="881" y="920" width="1" height="3" fill="#000" />
<text x="879.5" y="932" font-size="10.1" fill="#000" textLength="55.2" lengthAdjust="spacingAndGlyphs"  stroke="#000" stroke-width="0.2">26 Oct 08:00</text>
<rect x="945" y="920" width="1" height="3" fill="#000" />
<text x="943.5" y="932" font-size="10.1" fill="#000" textLength="55.2" lengthAdjust="spacingAndGlyphs"  stroke="#000" stroke-width="0.2">27 Oct 16:00</text>
<rect x="1009" y="920" width="1" height="3" fill="#000" />
<text x="1007.5" y="932" font-size="10.1" fill="#000" textLength="55.2" lengthAdjust="spacingAndGlyphs"  stroke="#000" stroke-width="0.2">29 Oct 00:00</text>
<rect x="1073" y="920" width="1" height="3" fill="#000" />
<text x="1071.5" y="932" font-size="10.1" fill="#000" textLength="52" lengthAdjust="spacingAndGlyphs"  stroke="#000" stroke-width="0.2">1 Nov 08:00</text>
<rect x="1137" y="920" width="1" height="3" fill="#000" />
<text x="1135.5" y="932" font-size="10.1" fill="#000" textLength="52" lengthAdjust="spacingAndGlyphs"  stroke="#000" stroke-width="0.2">2 Nov 16:00</text>
<rect x="1201" y="920" width="1" height="3" fill="#000" />
<text x="1199.5" y="932" font-size="10.1" fill="#000" textLength="52" lengthAdjust="spacingAndGlyphs"  stroke="#000" stroke-width="0.2">4 Nov 00:00</text>
<rect x="1265" y="920" width="1" height="3" fill="#000" />
<text x="1263.5" y="932" font-size="10.1" fill="#000" textLength="52" lengthAdjust="spacingAndGlyphs"  stroke="#000" stroke-width="0.2">5 Nov 08:00</text>
<rect x="1329" y="920" width="1" height="3" fill="#000" />
<text x="1327.5" y="932" font-size="10.1" fill="#000" textLength="52" lengthAdjust="spacingAndGlyphs"  stroke="#000" stroke-width="0.2">8 Nov 16:00</text>
<rect x="1393" y="920" width="1" height="3" fill="#000" />
<text x="1391.5" y="932" font-size="10.1" fill="#000" textLength="57.4" lengthAdjust="spacingAndGlyphs"  stroke="#000" stroke-width="0.2">10 Nov 00:00</text>
<text x="-2" y="932" font-size="10.1" fill="#000" textLength="38" lengthAdjust="spacingAndGlyphs"  stroke="#000" stroke-width="0.2">Sep 2021</text>
<text x="-8.5" y="586" font-size="10.1" fill="#000" textLength="131.5" lengthAdjust="spacingAndGlyphs"  stroke="#000" stroke-width="0.2">MACD(12,26,9) -0.0151 -0.1850</text>
<text x="-12" y="758" font-size="10.1" fill="#000" textLength="69" lengthAdjust="spacingAndGlyphs"  stroke="#000" stroke-width="0.2">RSI(14) 62.2030</text>
<text x="0.5" y="30" font-size="9.6" fill="#000" textLength="200.5" lengthAdjust="spacingAndGlyphs" stroke="none">USDJPY-,H4&#160;&#160;113.808 113.944 113.761 113.912</text>
<rect x="1002.5" y="70.5" width="61" height="18" fill="#fff" stroke="#ff0000" stroke-width="1"/>
<text x="1004" y="86" font-size="16.5" fill="#ff0000" textLength="58" lengthAdjust="spacingAndGlyphs" stroke="#ff0000" stroke-width="0.35">114.437</text>
<rect x="1064.5" y="77.5" width="2" height="3" fill="#fff" stroke="#ff0000" stroke-width="1"/>
<rect x="914.5" y="230.5" width="61" height="18" fill="#fff" stroke="#ff0000" stroke-width="1"/>
<text x="916" y="246" font-size="16.5" fill="#ff0000" textLength="58" lengthAdjust="spacingAndGlyphs" stroke="#ff0000" stroke-width="0.35">113.231</text>
<rect x="976" y="239" width="10" height="1" fill="#ff0000" />
<rect x="1282.5" y="299.5" width="61" height="18" fill="#fff" stroke="#ff0000" stroke-width="1"/>
<text x="1284" y="315" font-size="16.5" fill="#ff0000" textLength="58" lengthAdjust="spacingAndGlyphs" stroke="#ff0000" stroke-width="0.35">112.707</text>
<rect x="1344" y="308" width="9" height="1" fill="#ff0000" />
<rect x="1316.5" y="159.5" width="73" height="24" fill="#fff" stroke="#ff0000" stroke-width="1"/>
<text x="1318" y="179.5" font-size="22.5" fill="#ff0000" textLength="71.5" lengthAdjust="spacingAndGlyphs" stroke="#ff0000" stroke-width="0.35">113.742</text>
<rect x="1306" y="171" width="10" height="1" fill="#ff0000" />
<rect x="1313.5" y="169.5" width="2" height="3" fill="#fff" stroke="#ff0000" stroke-width="1"/>
<rect x="1390" y="169" width="96" height="6" fill="#00ff00" />
<polygon points="1368.8,306.7 1435.7,137.3 1439.0,138.6 1438.5,125.0 1428.8,134.6 1432.1,135.9 1365.2,305.3" fill="#ff0000"/>
<polygon points="1383.0,739.8 1443.8,693.1 1446.1,696.0 1451.5,685.0 1439.5,687.4 1441.7,690.4 1381.0,737.2" fill="#ff0000"/>
<polygon points="1380.3,872.7 1432.4,815.4 1435.2,817.9 1438.5,806.0 1427.0,810.4 1429.8,812.9 1377.7,870.3" fill="#ff0000"/>
<polygon points="1439,19 1448,19 1443.5,23.5" fill="#a0a0a0"/>
</svg>
<div class="pn" style="left:0;top:37px;width:209px;height:59px;background:#fff"></div>
<!-- SELL tab -->
<div class="pn" style="left:0;top:38px;width:40px;height:25px;background:linear-gradient(#f85a5a,#e03030);border-top:1px solid #c01010;border-right:1px solid #b01010"></div>
<div class="pn" style="left:0;top:61px;width:37px;height:1px;background:#900000"></div>
<div class="pn" style="left:0px;top:43px;font-size:13px;color:#fff;line-height:14px;transform:scaleX(0.84);transform-origin:0 0">SELL</div>
<!-- BUY tab -->
<div class="pn" style="left:155px;top:38px;width:52px;height:25px;background:linear-gradient(#f85a5a,#e03030);border-top:1px solid #c01010;border-left:1px solid #b01010;border-right:1px solid #b01010"></div>
<div class="pn" style="left:159px;top:61px;width:44px;height:1px;background:#900000"></div>
<div class="pn" style="left:168px;top:43px;font-size:13px;color:#fff;line-height:14px;transform:scaleX(0.86);transform-origin:0 0">BUY</div>
<!-- price boxes -->
<div class="pn" style="left:0;top:62px;width:98px;height:33px;background:linear-gradient(#d82a2a,#b00000);border-top:1px solid #a00000"></div>
<div class="pn" style="left:99px;top:62px;width:108px;height:33px;background:linear-gradient(#d82a2a,#b00000);border-top:1px solid #a00000"></div>
<div class="pn" style="left:0;top:62px;width:37px;height:1px;background:#f07070"></div>
<div class="pn" style="left:159px;top:62px;width:44px;height:1px;background:#f07070"></div>
<div class="pn" style="left:11px;top:79px;font-size:12px;font-weight:bold;color:#fff;line-height:14px">113</div>
<div class="pn" style="left:35.5px;top:57px;font-size:34px;color:#fff;line-height:40px;transform:scaleX(0.91);transform-origin:0 0">91</div>
<div class="pn" style="left:75px;top:63px;font-size:12px;font-weight:bold;color:#fff;line-height:12px">2</div>
<div class="pn" style="left:121px;top:79px;font-size:12px;font-weight:bold;color:#fff;line-height:14px">113</div>
<div class="pn" style="left:146.5px;top:57px;font-size:34px;color:#fff;line-height:40px;transform:scaleX(0.91);transform-origin:0 0">93</div>
<div class="pn" style="left:186px;top:63px;font-size:12px;font-weight:bold;color:#fff;line-height:12px">1</div>
<!-- lot widget -->
<div class="pn" style="left:42px;top:38px;width:111px;height:22px;border:1px solid #a8a8b0;background:#fff"></div>
<div class="pn" style="left:43px;top:39px;width:20px;height:20px;background:linear-gradient(#f2f2f2 0%,#e6e6e6 45%,#d6d6d6 50%,#d0d0d0 100%);border-right:1px solid #a8a8b0"></div>
<div class="pn" style="left:132px;top:39px;width:20px;height:20px;background:linear-gradient(#f2f2f2 0%,#e6e6e6 45%,#d6d6d6 50%,#d0d0d0 100%);border-left:1px solid #a8a8b0"></div>
<div class="pn" style="left:50px;top:47px;width:0;height:0;border-left:3px solid transparent;border-right:3px solid transparent;border-top:3px solid #4050c0"></div>
<div class="pn" style="left:139px;top:47px;width:0;height:0;border-left:3px solid transparent;border-right:3px solid transparent;border-bottom:3px solid #4050c0"></div>
<div class="pn" style="left:64px;top:41px;width:64px;text-align:right;font-size:12.5px;color:#000;line-height:14px">1.00</div>

<svg width="1691" height="14" viewBox="0 0 1691 14" style="position:absolute;left:0;top:0">
<g fill="#000"><circle cx="2.5" cy="4" r=".7"/><circle cx="1" cy="5.5" r=".7"/><circle cx="4" cy="5.5" r=".7"/><circle cx="2.5" cy="7" r=".7"/></g>
<rect x="5" y="0" width="1" height="12" fill="#a0a0a0"/><rect x="6" y="0" width="1" height="12" fill="#fff"/>
<!-- new order -->
<rect x="15.5" y="-4.5" width="10" height="11" fill="#fff" stroke="#7a7a7a"/>
<rect x="17" y="0" width="6" height="1" fill="#909090"/><rect x="17" y="3" width="6" height="1" fill="#909090"/>
<path d="M22.5 .5h4v4h4v4h-4v4h-4v-4h-4v-4h4z" fill="#18e018" stroke="#00a000"/>
<!-- chinese text 1 -->
<g stroke="#111" stroke-width="1.1" fill="none">
<path d="M34 3.5h5M36.5 0v6M35 6l-1 0M41 0v6M41 2.5h4M44 0v6"/>
<path d="M47 0v5l1.5 1M50 1.5h6M53.5 1.5v4.5l-1 0"/>
<path d="M58 .5h11M58 3.5h11M63.5 0v6"/>
</g>
<!-- gold book -->
<path d="M84 4l6-5h6l2 3-7 6z" fill="#d9a520" stroke="#a07010" stroke-width=".8"/>
<path d="M86 5l5 3" stroke="#f5d060" stroke-width="1"/>
<!-- cloud -->
<rect x="113" y="-2" width="10" height="5" fill="#4a8ad8"/>
<path d="M112 9.5h12c2 0 2-4-1-4c0-3-5-3-6-1c-2-1-5 0-5 2.5c-1 0-1 2.5 0 2.5z" fill="#fff" stroke="#7a9ac8"/>
<!-- signal -->
<circle cx="146" cy="1" r="7" fill="none" stroke="#8ab0e0" stroke-width="1.2"/>
<circle cx="146" cy="1" r="4.5" fill="none" stroke="#5a90d0" stroke-width="1.2"/>
<path d="M146 1 l3 9 l4-4z" fill="#3a9a3a"/>
<!-- auto trading -->
<path d="M166 -2h11v9c0 3-11 3-11 0z" fill="#e8c030" stroke="#b08a10" stroke-width=".7"/>
<ellipse cx="171" cy="0" rx="5" ry="2" fill="#7ab0e8"/>
<circle cx="177.5" cy="5.5" r="4" fill="#e02020"/><rect x="176" y="4" width="3" height="3" fill="#fff"/>
<!-- chinese text 2 -->
<g stroke="#111" stroke-width="1.1" fill="none">
<path d="M187 0v6M191.5 0v6M187 2.5h4.5M187 5.5h4.5"/>
<path d="M196 1h5M198.5 1l-2 5h4M204 0v5l-2 1M204 1.5h2.5v4"/>
<path d="M209 1h10M212 2l-3 4M216 2l3 4M211 6l6-3"/>
<path d="M222 .5h9v2h-9M224 4h8l-1 2M226 3.5l-3 3"/>
</g>
<!-- grip -->
<g fill="#a0a0a0"><rect x="242" y="1" width="4" height="1"/><rect x="242" y="3" width="4" height="1"/><rect x="242" y="5" width="4" height="1"/><rect x="242" y="7" width="4" height="1"/><rect x="242" y="9" width="4" height="1"/></g>
<!-- bar chart -->
<g fill="#404040"><rect x="257" y="8" width="14" height="1"/><rect x="260" y="0" width="1" height="11"/></g>
<rect x="264" y="0" width="1" height="5" fill="#109010"/><rect x="264" y="4" width="2" height="1" fill="#109010"/>
<rect x="279" y="0" width="1" height="12" fill="#b0b0b0"/>
<!-- candle (pressed) -->
<rect x="281" y="0" width="23" height="13" fill="#e6e6e6"/>
<g fill="#404040"><rect x="285" y="8" width="14" height="1"/><rect x="288" y="0" width="1" height="11"/></g>
<rect x="292" y="0" width="3" height="5" fill="#18c018" stroke="#108010" stroke-width=".6"/><rect x="293" y="5" width="1" height="2" fill="#108010"/>
<!-- line chart -->
<g fill="#404040"><rect x="313" y="8" width="14" height="1"/><rect x="316" y="0" width="1" height="11"/></g>
<path d="M314 5l6-5l5 3" stroke="#20a020" fill="none"/>
<rect x="336" y="0" width="1" height="12" fill="#b0b0b0"/>
<!-- zoom in/out -->
<circle cx="351" cy="1" r="4.5" fill="#cfe4fa" stroke="#3a7ad0" stroke-width="1.4"/><path d="M354 4l5 5" stroke="#c8a020" stroke-width="2.2"/><path d="M349 1h4M351 -1v4" stroke="#2a5ab0"/>
<circle cx="378" cy="1" r="4.5" fill="#cfe4fa" stroke="#3a7ad0" stroke-width="1.4"/><path d="M381 4l5 5" stroke="#c8a020" stroke-width="2.2"/><path d="M376 1h4" stroke="#2a5ab0"/>
<!-- tile -->
<rect x="401" y="-1" width="8" height="5" fill="#40a040"/><rect x="409" y="-1" width="8" height="5" fill="#3a70d0"/>
<rect x="401" y="4" width="8" height="6" fill="#3a70d0"/><rect x="409" y="4" width="8" height="6" fill="#40a040"/>
<rect x="402.5" y="6" width="5" height="2" fill="#fff"/><rect x="410.5" y="6" width="5" height="2" fill="#fff"/>
<rect x="426" y="0" width="1" height="12" fill="#b0b0b0"/><rect x="431" y="0" width="1" height="12" fill="#b0b0b0"/>
<!-- autoscroll -->
<g fill="#404040"><rect x="437" y="8" width="14" height="1"/><rect x="440" y="0" width="1" height="11"/></g>
<path d="M444 -1l4 3l-4 3z" fill="#20b020"/>
<!-- chart shift -->
<g fill="#404040"><rect x="465" y="8" width="14" height="1"/><rect x="468" y="0" width="1" height="11"/></g>
<rect x="473" y="0" width="1" height="6" fill="#2050c0"/><path d="M474 2l3-2m-3 2l3 1" stroke="#e03010"/>
<rect x="488" y="0" width="1" height="12" fill="#b0b0b0"/>
<!-- indicators -->
<rect x="498.5" y="-3.5" width="9" height="10" fill="#fff" stroke="#7a7a7a"/>
<path d="M504.5 -1.5h4v4h4v4h-4v4h-4v-4h-4v-4h4z" fill="#18e018" stroke="#00a000"/>
<path d="M521 1h5l-2.5 3z" fill="#000"/>
<!-- clock -->
<circle cx="544" cy="1" r="6.5" fill="#e8f0fa" stroke="#2a6ad0" stroke-width="2"/><path d="M544 -2v3h2" stroke="#7a8aa0" fill="none"/>
<path d="M559 1h5l-2.5 3z" fill="#000"/>
<!-- templates -->
<rect x="575.5" y="-2.5" width="15" height="11" fill="#fff" stroke="#3a70c0"/>
<path d="M577 0h3l2-1h3" stroke="#c03020" fill="none"/><path d="M577 6l3-2l3 2l3-2l3 1" stroke="#20a020" fill="none"/>
<rect x="576" y="3" width="14" height="1" fill="#3a70c0"/>
<path d="M597 1h5l-2.5 3z" fill="#000"/>
<rect x="609" y="0" width="1" height="14" fill="#a0a0a0"/>
<g fill="#a0a0a0"><rect x="613" y="1" width="4" height="1"/><rect x="613" y="3" width="4" height="1"/><rect x="613" y="5" width="4" height="1"/><rect x="613" y="7" width="4" height="1"/><rect x="613" y="9" width="4" height="1"/></g>
<!-- cursor -->
<rect x="620" y="0" width="24" height="12" fill="#e8e8e8"/>
<path d="M627 -2v8l2-2l2 4l1.5-.8l-2-4h3z" fill="#505050"/>
<!-- crosshair -->
<path d="M651 2.5h15M659.5 -2v12" stroke="#707070" fill="none"/>
<rect x="676" y="0" width="1" height="12" fill="#b0b0b0"/>
<rect x="693" y="0" width="1" height="9" fill="#606060"/>
<rect x="716" y="2" width="12" height="1" fill="#606060"/>
<path d="M743.5 8.5l10-9" stroke="#606060" fill="none"/>
<!-- fib E -->
<path d="M771 5l8-7M772 8l8-7M774 9l8-7" stroke="#505050" fill="none"/><text x="782" y="11" font-size="6" font-weight="bold" fill="#505050" font-family="Liberation Sans">E</text>
<!-- fib F -->
<path d="M799 2.5h12M799 5.5h12" stroke="#606060" stroke-dasharray="1 1" fill="none"/><text x="810" y="11" font-size="6" font-weight="bold" fill="#505050" font-family="Liberation Sans">F</text>
<text x="830" y="7" font-size="10" font-weight="bold" fill="#505050" font-family="Liberation Sans">A</text>
<rect x="856.5" y="-1.5" width="11" height="10" fill="none" stroke="#707070" stroke-dasharray="1 1"/><rect x="861" y="0" width="2" height="7" fill="#505050"/>
<path d="M885 2l2 3l4-5" stroke="#505050" stroke-width="1.3" fill="none"/><path d="M891 5l3-2l3 3l-3 2z" fill="#303030"/>
<path d="M904 1h5l-2.5 3z" fill="#000"/>
<rect x="915" y="0" width="1" height="14" fill="#a0a0a0"/>
<g fill="#a0a0a0"><rect x="919" y="1" width="4" height="1"/><rect x="919" y="3" width="4" height="1"/><rect x="919" y="5" width="4" height="1"/><rect x="919" y="7" width="4" height="1"/><rect x="919" y="9" width="4" height="1"/></g>
<!-- timeframes -->
<rect x="1066" y="0" width="24" height="12" fill="#e8e8e8"/><rect x="1065" y="0" width="1" height="12" fill="#a0a0a0"/>
<g font-family="Liberation Sans" font-size="10.5" fill="#3a3a3a">
<text x="930.5" y="6.5" textLength="12.5" lengthAdjust="spacingAndGlyphs">M1</text>
<text x="958.5" y="6.5" textLength="12.5" lengthAdjust="spacingAndGlyphs">M5</text>
<text x="984.5" y="6.5" textLength="17.5" lengthAdjust="spacingAndGlyphs">M15</text>
<text x="1012.5" y="6.5" textLength="17.5" lengthAdjust="spacingAndGlyphs">M30</text>
<text x="1043.5" y="6.5" textLength="11.5" lengthAdjust="spacingAndGlyphs">H1</text>
<text x="1070.5" y="6.5" textLength="12.5" lengthAdjust="spacingAndGlyphs">H4</text>
<text x="1099.5" y="6.5" textLength="11.5" lengthAdjust="spacingAndGlyphs">D1</text>
<text x="1127" y="6.5" textLength="14" lengthAdjust="spacingAndGlyphs">W1</text>
<text x="1153.5" y="6.5" textLength="15" lengthAdjust="spacingAndGlyphs">MN</text>
</g>
<rect x="1176" y="0" width="1" height="14" fill="#a0a0a0"/>
<!-- search -->
<circle cx="1646" cy="-1" r="3.5" fill="none" stroke="#2a60d0" stroke-width="1.5"/><path d="M1643.5 1.5l-4 4" stroke="#2a60d0" stroke-width="2.4"/>
<!-- chat + badge -->
<path d="M1666 7c-6 0-7-7 1-7h6c6 0 6 7 0 7h-4l-3 3z" fill="#e0e2ea" stroke="#a8a8a8" stroke-width="1"/>
<circle cx="1678" cy="0" r="6.5" fill="#d82a10"/>
<rect x="1677" y="-2" width="1.6" height="5" fill="#fff"/><rect x="1675.5" y="2.5" width="4.5" height="1" fill="#fff"/>
</svg>

</body></html>
